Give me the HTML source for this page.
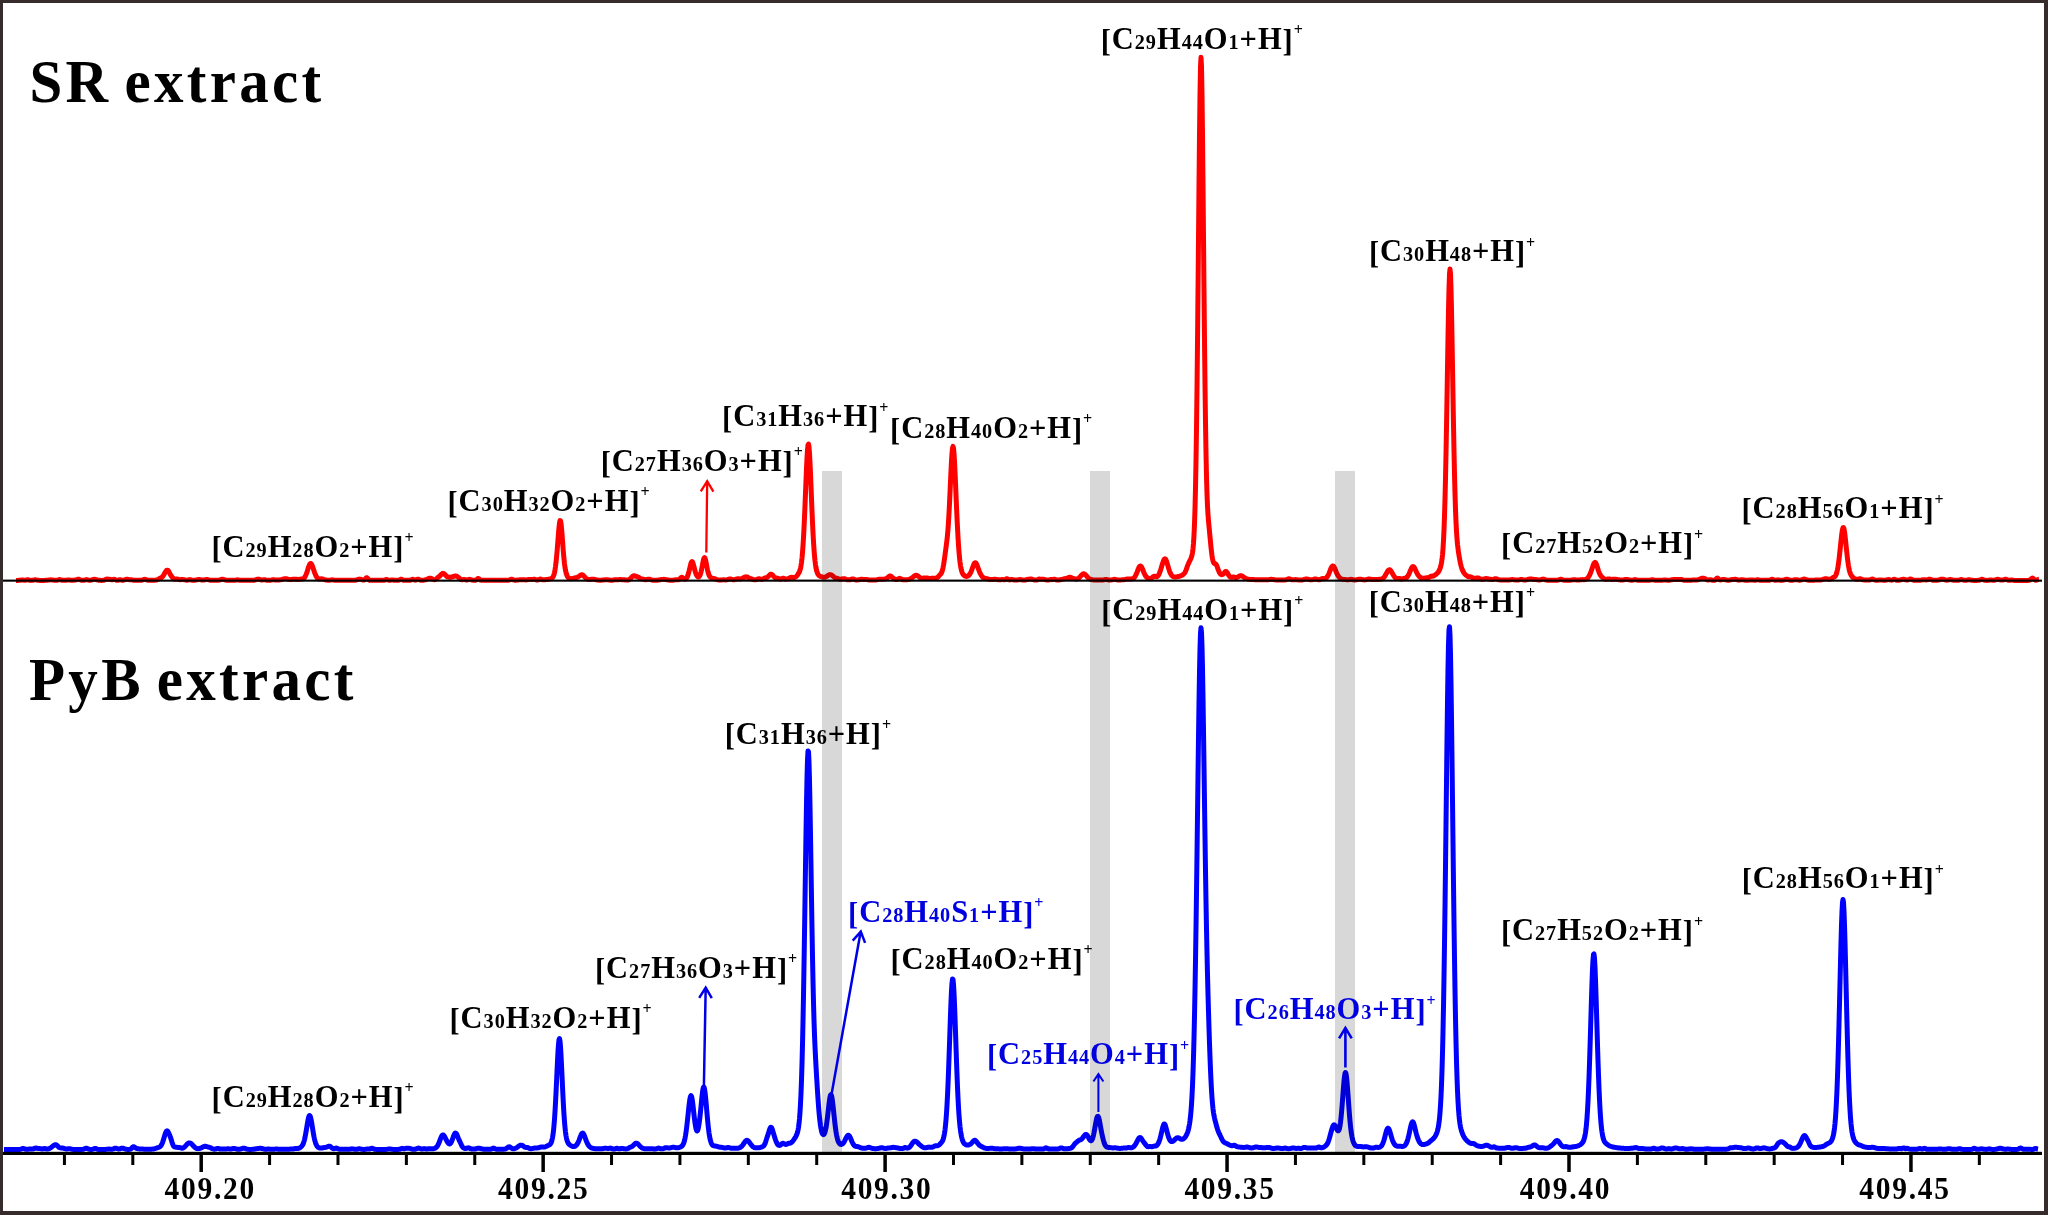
<!DOCTYPE html>
<html><head><meta charset="utf-8"><style>
html,body{margin:0;padding:0;background:#fff;}
body{width:2048px;height:1215px;overflow:hidden;position:relative;}
svg{position:absolute;left:0;top:0;}
text{font-family:"Liberation Serif",serif;font-weight:bold;}
</style></head><body>
<svg width="2048" height="1215" viewBox="0 0 2048 1215">
<rect x="0" y="0" width="2048" height="1215" fill="#ffffff"/>

<polyline points="16.0,580.39 16.5,580.39 17.0,580.39 17.5,580.39 18.0,580.38 18.5,580.37 19.0,580.35 19.5,580.31 20.0,580.25 20.5,580.17 21.0,580.08 21.5,580.02 22.0,579.99 22.5,580.01 23.0,580.06 23.5,580.14 24.0,580.22 24.5,580.28 25.0,580.30 25.5,580.26 26.0,580.15 26.5,579.98 27.0,579.81 27.5,579.72 28.0,579.76 28.5,579.91 29.0,580.09 29.5,580.24 30.0,580.33 30.5,580.37 31.0,580.38 31.5,580.37 32.0,580.33 32.5,580.28 33.0,580.19 33.5,580.08 34.0,579.95 34.5,579.85 35.0,579.80 35.5,579.82 36.0,579.90 36.5,580.01 37.0,580.13 37.5,580.24 38.0,580.31 38.5,580.35 39.0,580.37 39.5,580.39 40.0,580.39 40.5,580.39 41.0,580.39 41.5,580.39 42.0,580.39 42.5,580.39 43.0,580.39 43.5,580.39 44.0,580.38 44.5,580.38 45.0,580.37 45.5,580.35 46.0,580.33 46.5,580.30 47.0,580.26 47.5,580.20 48.0,580.14 48.5,580.07 49.0,580.00 49.5,579.93 50.0,579.88 50.5,579.85 51.0,579.85 51.5,579.87 52.0,579.91 52.5,579.97 53.0,580.04 53.5,580.11 54.0,580.18 54.5,580.23 55.0,580.28 55.5,580.32 56.0,580.33 56.5,580.32 57.0,580.28 57.5,580.18 58.0,580.03 58.5,579.84 59.0,579.67 59.5,579.58 60.0,579.62 60.5,579.76 61.0,579.94 61.5,580.12 62.0,580.25 62.5,580.32 63.0,580.36 63.5,580.36 64.0,580.35 64.5,580.33 65.0,580.30 65.5,580.26 66.0,580.20 66.5,580.15 67.0,580.10 67.5,580.05 68.0,580.02 68.5,580.01 69.0,580.03 69.5,580.06 70.0,580.11 70.5,580.16 71.0,580.20 71.5,580.24 72.0,580.26 72.5,580.25 73.0,580.23 73.5,580.19 74.0,580.14 74.5,580.09 75.0,580.04 75.5,579.99 76.0,579.90 76.5,579.77 77.0,579.60 77.5,579.41 78.0,579.26 78.5,579.22 79.0,579.31 79.5,579.51 80.0,579.76 80.5,579.99 81.0,580.17 81.5,580.28 82.0,580.34 82.5,580.37 83.0,580.37 83.5,580.34 84.0,580.29 84.5,580.18 85.0,580.02 85.5,579.83 86.0,579.67 86.5,579.61 87.0,579.66 87.5,579.81 88.0,579.99 88.5,580.14 89.0,580.24 89.5,580.28 90.0,580.26 90.5,580.20 91.0,580.11 91.5,579.99 92.0,579.85 92.5,579.70 93.0,579.55 93.5,579.43 94.0,579.35 94.5,579.32 95.0,579.36 95.5,579.45 96.0,579.58 96.5,579.73 97.0,579.88 97.5,580.02 98.0,580.14 98.5,580.22 99.0,580.29 99.5,580.33 100.0,580.35 100.5,580.37 101.0,580.38 101.5,580.38 102.0,580.38 102.5,580.37 103.0,580.35 103.5,580.30 104.0,580.20 104.5,580.05 105.0,579.83 105.5,579.58 106.0,579.34 106.5,579.17 107.0,579.10 107.5,579.11 108.0,579.16 108.5,579.19 109.0,579.21 109.5,579.24 110.0,579.32 110.5,579.46 111.0,579.63 111.5,579.77 112.0,579.81 112.5,579.72 113.0,579.55 113.5,579.37 114.0,579.29 114.5,579.36 115.0,579.56 115.5,579.82 116.0,580.05 116.5,580.21 117.0,580.29 117.5,580.30 118.0,580.23 118.5,580.09 119.0,579.90 119.5,579.74 120.0,579.69 120.5,579.76 121.0,579.93 121.5,580.10 122.0,580.22 122.5,580.26 123.0,580.24 123.5,580.16 124.0,580.05 124.5,579.90 125.0,579.73 125.5,579.56 126.0,579.41 126.5,579.30 127.0,579.27 127.5,579.30 128.0,579.40 128.5,579.54 129.0,579.69 129.5,579.80 130.0,579.84 130.5,579.83 131.0,579.81 131.5,579.82 132.0,579.90 132.5,580.03 133.0,580.16 133.5,580.26 134.0,580.32 134.5,580.34 135.0,580.35 135.5,580.35 136.0,580.35 136.5,580.35 137.0,580.35 137.5,580.35 138.0,580.35 138.5,580.35 139.0,580.34 139.5,580.34 140.0,580.33 140.5,580.31 141.0,580.27 141.5,580.21 142.0,580.11 142.5,579.96 143.0,579.78 143.5,579.59 144.0,579.44 144.5,579.36 145.0,579.37 145.5,579.47 146.0,579.64 146.5,579.82 147.0,579.98 147.5,580.11 148.0,580.19 148.5,580.24 149.0,580.26 149.5,580.26 150.0,580.26 150.5,580.26 151.0,580.25 151.5,580.24 152.0,580.23 152.5,580.22 153.0,580.21 153.5,580.20 154.0,580.18 154.5,580.16 155.0,580.14 155.5,580.11 156.0,580.05 156.5,579.97 157.0,579.85 157.5,579.68 158.0,579.44 158.5,579.16 159.0,578.85 159.5,578.55 160.0,578.27 160.5,578.03 161.0,577.78 161.5,577.50 162.0,577.14 162.5,576.66 163.0,576.05 163.5,575.32 164.0,574.48 164.5,573.58 165.0,572.67 165.5,571.80 166.0,571.04 166.5,570.46 167.0,570.14 167.5,570.13 168.0,570.44 168.5,571.05 169.0,571.88 169.5,572.86 170.0,573.88 170.5,574.84 171.0,575.69 171.5,576.41 172.0,577.03 172.5,577.59 173.0,578.11 173.5,578.57 174.0,578.92 174.5,579.12 175.0,579.19 175.5,579.16 176.0,579.08 176.5,579.02 177.0,579.02 177.5,579.10 178.0,579.25 178.5,579.41 179.0,579.55 179.5,579.64 180.0,579.68 180.5,579.66 181.0,579.61 181.5,579.56 182.0,579.52 182.5,579.52 183.0,579.55 183.5,579.61 184.0,579.70 184.5,579.81 185.0,579.92 185.5,580.02 186.0,580.10 186.5,580.16 187.0,580.18 187.5,580.15 188.0,580.06 188.5,579.91 189.0,579.75 189.5,579.63 190.0,579.61 190.5,579.70 191.0,579.87 191.5,580.05 192.0,580.18 192.5,580.26 193.0,580.30 193.5,580.30 194.0,580.29 194.5,580.26 195.0,580.21 195.5,580.14 196.0,580.04 196.5,579.93 197.0,579.81 197.5,579.69 198.0,579.59 198.5,579.52 199.0,579.50 199.5,579.53 200.0,579.61 200.5,579.71 201.0,579.83 201.5,579.94 202.0,580.03 202.5,580.08 203.0,580.10 203.5,580.06 204.0,579.99 204.5,579.88 205.0,579.76 205.5,579.64 206.0,579.55 206.5,579.50 207.0,579.51 207.5,579.57 208.0,579.67 208.5,579.80 209.0,579.94 209.5,580.06 210.0,580.16 210.5,580.24 211.0,580.29 211.5,580.33 212.0,580.35 212.5,580.36 213.0,580.36 213.5,580.37 214.0,580.37 214.5,580.37 215.0,580.37 215.5,580.36 216.0,580.36 216.5,580.35 217.0,580.34 217.5,580.31 218.0,580.27 218.5,580.20 219.0,580.11 219.5,579.99 220.0,579.85 220.5,579.69 221.0,579.54 221.5,579.41 222.0,579.33 222.5,579.31 223.0,579.35 223.5,579.45 224.0,579.58 224.5,579.74 225.0,579.89 225.5,580.03 226.0,580.14 226.5,580.23 227.0,580.29 227.5,580.32 228.0,580.35 228.5,580.36 229.0,580.37 229.5,580.37 230.0,580.37 230.5,580.37 231.0,580.37 231.5,580.37 232.0,580.37 232.5,580.37 233.0,580.37 233.5,580.37 234.0,580.36 234.5,580.34 235.0,580.29 235.5,580.20 236.0,580.07 236.5,579.94 237.0,579.84 237.5,579.82 238.0,579.88 238.5,580.01 239.0,580.14 239.5,580.25 240.0,580.32 240.5,580.35 241.0,580.36 241.5,580.37 242.0,580.37 242.5,580.37 243.0,580.37 243.5,580.37 244.0,580.37 244.5,580.37 245.0,580.37 245.5,580.37 246.0,580.37 246.5,580.37 247.0,580.37 247.5,580.37 248.0,580.37 248.5,580.37 249.0,580.37 249.5,580.37 250.0,580.37 250.5,580.37 251.0,580.37 251.5,580.36 252.0,580.36 252.5,580.35 253.0,580.33 253.5,580.29 254.0,580.24 254.5,580.15 255.0,580.03 255.5,579.87 256.0,579.69 256.5,579.50 257.0,579.32 257.5,579.18 258.0,579.11 258.5,579.13 259.0,579.22 259.5,579.37 260.0,579.55 260.5,579.74 261.0,579.89 261.5,580.00 262.0,580.03 262.5,579.99 263.0,579.89 263.5,579.78 264.0,579.70 264.5,579.70 265.0,579.78 265.5,579.92 266.0,580.07 266.5,580.19 267.0,580.27 267.5,580.32 268.0,580.34 268.5,580.34 269.0,580.33 269.5,580.31 270.0,580.28 270.5,580.21 271.0,580.12 271.5,580.01 272.0,579.88 272.5,579.77 273.0,579.71 273.5,579.70 274.0,579.75 274.5,579.83 275.0,579.93 275.5,580.00 276.0,580.05 276.5,580.07 277.0,580.06 277.5,580.04 278.0,580.01 278.5,579.97 279.0,579.94 279.5,579.89 280.0,579.83 280.5,579.76 281.0,579.68 281.5,579.57 282.0,579.45 282.5,579.31 283.0,579.17 283.5,579.03 284.0,578.90 284.5,578.79 285.0,578.71 285.5,578.68 286.0,578.69 286.5,578.76 287.0,578.88 287.5,579.03 288.0,579.20 288.5,579.37 289.0,579.50 289.5,579.59 290.0,579.63 290.5,579.60 291.0,579.54 291.5,579.45 292.0,579.36 292.5,579.29 293.0,579.25 293.5,579.24 294.0,579.23 294.5,579.20 295.0,579.16 295.5,579.13 296.0,579.14 296.5,579.22 297.0,579.33 297.5,579.45 298.0,579.51 298.5,579.50 299.0,579.42 299.5,579.32 300.0,579.21 300.5,579.13 301.0,579.08 301.5,579.04 302.0,579.00 302.5,578.91 303.0,578.75 303.5,578.48 304.0,578.08 304.5,577.52 305.0,576.78 305.5,575.85 306.0,574.73 306.5,573.42 307.0,571.97 307.5,570.41 308.0,568.82 308.5,567.27 309.0,565.87 309.5,564.71 310.0,563.89 310.5,563.49 311.0,563.57 311.5,564.12 312.0,565.07 312.5,566.32 313.0,567.76 313.5,569.30 314.0,570.84 314.5,572.31 315.0,573.67 315.5,574.89 316.0,575.94 316.5,576.82 317.0,577.53 317.5,578.09 318.0,578.49 318.5,578.77 319.0,578.92 319.5,578.98 320.0,578.96 320.5,578.91 321.0,578.85 321.5,578.82 322.0,578.85 322.5,578.94 323.0,579.09 323.5,579.28 324.0,579.48 324.5,579.67 325.0,579.82 325.5,579.94 326.0,580.03 326.5,580.08 327.0,580.12 327.5,580.15 328.0,580.17 328.5,580.17 329.0,580.17 329.5,580.16 330.0,580.12 330.5,580.05 331.0,579.95 331.5,579.87 332.0,579.83 332.5,579.84 333.0,579.92 333.5,580.02 334.0,580.12 334.5,580.19 335.0,580.24 335.5,580.27 336.0,580.28 336.5,580.28 337.0,580.29 337.5,580.29 338.0,580.30 338.5,580.30 339.0,580.30 339.5,580.30 340.0,580.31 340.5,580.31 341.0,580.31 341.5,580.31 342.0,580.32 342.5,580.32 343.0,580.32 343.5,580.32 344.0,580.32 344.5,580.32 345.0,580.33 345.5,580.33 346.0,580.33 346.5,580.33 347.0,580.33 347.5,580.33 348.0,580.33 348.5,580.34 349.0,580.34 349.5,580.34 350.0,580.34 350.5,580.34 351.0,580.34 351.5,580.34 352.0,580.34 352.5,580.34 353.0,580.34 353.5,580.33 354.0,580.31 354.5,580.29 355.0,580.24 355.5,580.17 356.0,580.07 356.5,579.94 357.0,579.79 357.5,579.61 358.0,579.43 358.5,579.28 359.0,579.17 359.5,579.12 360.0,579.14 360.5,579.23 361.0,579.37 361.5,579.54 362.0,579.72 362.5,579.88 363.0,580.00 363.5,580.05 364.0,579.97 364.5,579.71 365.0,579.23 365.5,578.61 366.0,578.01 366.5,577.69 367.0,577.80 367.5,578.28 368.0,578.94 368.5,579.54 369.0,579.96 369.5,580.19 370.0,580.30 370.5,580.34 371.0,580.35 371.5,580.36 372.0,580.36 372.5,580.36 373.0,580.36 373.5,580.36 374.0,580.36 374.5,580.36 375.0,580.36 375.5,580.36 376.0,580.36 376.5,580.36 377.0,580.36 377.5,580.36 378.0,580.36 378.5,580.36 379.0,580.36 379.5,580.36 380.0,580.36 380.5,580.36 381.0,580.36 381.5,580.36 382.0,580.36 382.5,580.36 383.0,580.35 383.5,580.34 384.0,580.30 384.5,580.20 385.0,580.02 385.5,579.78 386.0,579.55 386.5,579.44 387.0,579.51 387.5,579.71 388.0,579.96 388.5,580.16 389.0,580.27 389.5,580.31 390.0,580.29 390.5,580.22 391.0,580.12 391.5,580.01 392.0,579.95 392.5,579.96 393.0,580.05 393.5,580.17 394.0,580.26 394.5,580.32 395.0,580.34 395.5,580.35 396.0,580.35 396.5,580.36 397.0,580.35 397.5,580.35 398.0,580.34 398.5,580.29 399.0,580.18 399.5,579.97 400.0,579.67 400.5,579.37 401.0,579.20 401.5,579.26 402.0,579.51 402.5,579.83 403.0,580.09 403.5,580.24 404.0,580.31 404.5,580.34 405.0,580.35 405.5,580.35 406.0,580.35 406.5,580.35 407.0,580.35 407.5,580.34 408.0,580.34 408.5,580.34 409.0,580.33 409.5,580.30 410.0,580.24 410.5,580.11 411.0,579.91 411.5,579.67 412.0,579.44 412.5,579.31 413.0,579.35 413.5,579.53 414.0,579.77 414.5,579.99 415.0,580.12 415.5,580.13 416.0,580.02 416.5,579.79 417.0,579.50 417.5,579.25 418.0,579.17 418.5,579.28 419.0,579.54 419.5,579.83 420.0,580.06 420.5,580.20 421.0,580.26 421.5,580.29 422.0,580.28 422.5,580.27 423.0,580.24 423.5,580.20 424.0,580.14 424.5,580.04 425.0,579.92 425.5,579.78 426.0,579.61 426.5,579.43 427.0,579.23 427.5,579.01 428.0,578.79 428.5,578.57 429.0,578.38 429.5,578.25 430.0,578.20 430.5,578.25 431.0,578.39 431.5,578.60 432.0,578.85 432.5,579.11 433.0,579.34 433.5,579.52 434.0,579.63 434.5,579.66 435.0,579.60 435.5,579.42 436.0,579.13 436.5,578.71 437.0,578.24 437.5,577.77 438.0,577.35 438.5,577.00 439.0,576.67 439.5,576.30 440.0,575.84 440.5,575.30 441.0,574.74 441.5,574.21 442.0,573.77 442.5,573.47 443.0,573.36 443.5,573.45 444.0,573.71 444.5,574.12 445.0,574.62 445.5,575.16 446.0,575.68 446.5,576.15 447.0,576.53 447.5,576.82 448.0,577.02 448.5,577.13 449.0,577.18 449.5,577.19 450.0,577.18 450.5,577.16 451.0,577.11 451.5,577.05 452.0,576.94 452.5,576.81 453.0,576.64 453.5,576.46 454.0,576.29 454.5,576.15 455.0,576.06 455.5,576.04 456.0,576.08 456.5,576.19 457.0,576.38 457.5,576.66 458.0,577.02 458.5,577.46 459.0,577.93 459.5,578.39 460.0,578.81 460.5,579.16 461.0,579.43 461.5,579.61 462.0,579.70 462.5,579.69 463.0,579.59 463.5,579.46 464.0,579.38 464.5,579.42 465.0,579.57 465.5,579.75 466.0,579.91 466.5,579.97 467.0,579.94 467.5,579.83 468.0,579.68 468.5,579.52 469.0,579.41 469.5,579.36 470.0,579.40 470.5,579.52 471.0,579.69 471.5,579.86 472.0,580.01 472.5,580.13 473.0,580.20 473.5,580.25 474.0,580.27 474.5,580.28 475.0,580.26 475.5,580.19 476.0,580.03 476.5,579.72 477.0,579.26 477.5,578.77 478.0,578.46 478.5,578.48 479.0,578.82 479.5,579.31 480.0,579.76 480.5,580.06 481.0,580.22 481.5,580.29 482.0,580.31 482.5,580.31 483.0,580.32 483.5,580.32 484.0,580.32 484.5,580.32 485.0,580.32 485.5,580.32 486.0,580.32 486.5,580.32 487.0,580.32 487.5,580.32 488.0,580.32 488.5,580.32 489.0,580.32 489.5,580.32 490.0,580.32 490.5,580.32 491.0,580.32 491.5,580.32 492.0,580.32 492.5,580.32 493.0,580.32 493.5,580.32 494.0,580.32 494.5,580.32 495.0,580.32 495.5,580.32 496.0,580.32 496.5,580.32 497.0,580.32 497.5,580.32 498.0,580.32 498.5,580.32 499.0,580.32 499.5,580.32 500.0,580.32 500.5,580.32 501.0,580.32 501.5,580.31 502.0,580.31 502.5,580.31 503.0,580.31 503.5,580.31 504.0,580.31 504.5,580.31 505.0,580.31 505.5,580.31 506.0,580.31 506.5,580.31 507.0,580.30 507.5,580.28 508.0,580.25 508.5,580.18 509.0,580.06 509.5,579.89 510.0,579.67 510.5,579.44 511.0,579.28 511.5,579.22 512.0,579.29 512.5,579.46 513.0,579.68 513.5,579.89 514.0,580.05 514.5,580.15 515.0,580.19 515.5,580.19 516.0,580.17 516.5,580.13 517.0,580.08 517.5,580.02 518.0,579.96 518.5,579.92 519.0,579.88 519.5,579.85 520.0,579.84 520.5,579.83 521.0,579.81 521.5,579.79 522.0,579.76 522.5,579.73 523.0,579.71 523.5,579.72 524.0,579.75 524.5,579.80 525.0,579.85 525.5,579.89 526.0,579.90 526.5,579.87 527.0,579.81 527.5,579.71 528.0,579.60 528.5,579.50 529.0,579.42 529.5,579.38 530.0,579.39 530.5,579.43 531.0,579.50 531.5,579.56 532.0,579.59 532.5,579.56 533.0,579.46 533.5,579.35 534.0,579.28 534.5,579.30 535.0,579.41 535.5,579.59 536.0,579.76 536.5,579.90 537.0,579.97 537.5,579.97 538.0,579.90 538.5,579.75 539.0,579.51 539.5,579.26 540.0,579.09 540.5,579.09 541.0,579.25 541.5,579.46 542.0,579.65 542.5,579.76 543.0,579.79 543.5,579.79 544.0,579.76 544.5,579.73 545.0,579.69 545.5,579.64 546.0,579.59 546.5,579.54 547.0,579.48 547.5,579.41 548.0,579.34 548.5,579.25 549.0,579.16 549.5,579.05 550.0,578.92 550.5,578.77 551.0,578.58 551.5,578.33 552.0,578.01 552.5,577.55 553.0,576.89 553.5,575.93 554.0,574.54 554.5,572.58 555.0,569.94 555.5,566.56 556.0,562.46 556.5,557.64 557.0,552.14 557.5,546.07 558.0,539.63 558.5,533.22 559.0,527.43 559.5,523.01 560.0,520.64 560.5,520.77 561.0,523.37 561.5,528.01 562.0,533.99 562.5,540.63 563.0,547.33 563.5,553.61 564.0,559.15 564.5,563.78 565.0,567.47 565.5,570.33 566.0,572.53 566.5,574.24 567.0,575.58 567.5,576.61 568.0,577.35 568.5,577.87 569.0,578.21 569.5,578.43 570.0,578.56 570.5,578.63 571.0,578.65 571.5,578.63 572.0,578.56 572.5,578.46 573.0,578.34 573.5,578.21 574.0,578.08 574.5,577.96 575.0,577.86 575.5,577.76 576.0,577.66 576.5,577.55 577.0,577.40 577.5,577.21 578.0,576.96 578.5,576.65 579.0,576.30 579.5,575.92 580.0,575.55 580.5,575.20 581.0,574.92 581.5,574.77 582.0,574.76 582.5,574.91 583.0,575.23 583.5,575.67 584.0,576.19 584.5,576.74 585.0,577.28 585.5,577.78 586.0,578.21 586.5,578.58 587.0,578.88 587.5,579.12 588.0,579.30 588.5,579.41 589.0,579.47 589.5,579.49 590.0,579.46 590.5,579.41 591.0,579.33 591.5,579.26 592.0,579.20 592.5,579.16 593.0,579.16 593.5,579.20 594.0,579.27 594.5,579.37 595.0,579.50 595.5,579.62 596.0,579.75 596.5,579.86 597.0,579.95 597.5,580.03 598.0,580.08 598.5,580.12 599.0,580.15 599.5,580.17 600.0,580.17 600.5,580.18 601.0,580.17 601.5,580.15 602.0,580.12 602.5,580.09 603.0,580.04 603.5,579.98 604.0,579.91 604.5,579.84 605.0,579.78 605.5,579.73 606.0,579.71 606.5,579.71 607.0,579.73 607.5,579.78 608.0,579.84 608.5,579.91 609.0,579.98 609.5,580.05 610.0,580.11 610.5,580.15 611.0,580.18 611.5,580.20 612.0,580.19 612.5,580.16 613.0,580.08 613.5,579.97 614.0,579.84 614.5,579.73 615.0,579.66 615.5,579.64 616.0,579.68 616.5,579.74 617.0,579.78 617.5,579.78 618.0,579.75 618.5,579.70 619.0,579.64 619.5,579.60 620.0,579.58 620.5,579.59 621.0,579.62 621.5,579.65 622.0,579.69 622.5,579.71 623.0,579.73 623.5,579.74 624.0,579.78 624.5,579.84 625.0,579.92 625.5,580.00 626.0,580.06 626.5,580.10 627.0,580.10 627.5,580.06 628.0,579.98 628.5,579.86 629.0,579.66 629.5,579.38 630.0,579.00 630.5,578.52 631.0,577.97 631.5,577.38 632.0,576.81 632.5,576.34 633.0,575.99 633.5,575.80 634.0,575.77 634.5,575.85 635.0,576.00 635.5,576.18 636.0,576.36 636.5,576.51 637.0,576.65 637.5,576.80 638.0,576.98 638.5,577.22 639.0,577.52 639.5,577.88 640.0,578.25 640.5,578.58 641.0,578.83 641.5,578.98 642.0,579.05 642.5,579.08 643.0,579.12 643.5,579.21 644.0,579.36 644.5,579.53 645.0,579.67 645.5,579.75 646.0,579.74 646.5,579.65 647.0,579.51 647.5,579.36 648.0,579.23 648.5,579.16 649.0,579.17 649.5,579.26 650.0,579.41 650.5,579.59 651.0,579.77 651.5,579.93 652.0,580.05 652.5,580.14 653.0,580.19 653.5,580.22 654.0,580.24 654.5,580.24 655.0,580.25 655.5,580.24 656.0,580.24 656.5,580.22 657.0,580.19 657.5,580.15 658.0,580.09 658.5,580.02 659.0,579.93 659.5,579.84 660.0,579.75 660.5,579.66 661.0,579.59 661.5,579.53 662.0,579.48 662.5,579.43 663.0,579.39 663.5,579.37 664.0,579.36 664.5,579.37 665.0,579.42 665.5,579.50 666.0,579.59 666.5,579.70 667.0,579.81 667.5,579.91 668.0,580.00 668.5,580.06 669.0,580.11 669.5,580.14 670.0,580.16 670.5,580.17 671.0,580.17 671.5,580.17 672.0,580.17 672.5,580.15 673.0,580.13 673.5,580.10 674.0,580.04 674.5,579.97 675.0,579.88 675.5,579.78 676.0,579.71 676.5,579.67 677.0,579.68 677.5,579.72 678.0,579.76 678.5,579.75 679.0,579.62 679.5,579.31 680.0,578.80 680.5,578.17 681.0,577.58 681.5,577.24 682.0,577.28 682.5,577.67 683.0,578.23 683.5,578.76 684.0,579.11 684.5,579.26 685.0,579.22 685.5,579.03 686.0,578.68 686.5,578.15 687.0,577.38 687.5,576.34 688.0,574.99 688.5,573.34 689.0,571.44 689.5,569.35 690.0,567.19 690.5,565.10 691.0,563.29 691.5,562.03 692.0,561.55 692.5,561.95 693.0,563.14 693.5,564.87 694.0,566.87 694.5,568.91 695.0,570.82 695.5,572.50 696.0,573.91 696.5,575.03 697.0,575.89 697.5,576.49 698.0,576.83 698.5,576.92 699.0,576.71 699.5,576.17 700.0,575.24 700.5,573.89 701.0,572.10 701.5,569.91 702.0,567.38 702.5,564.68 703.0,562.04 703.5,559.76 704.0,558.19 704.5,557.63 705.0,558.20 705.5,559.78 706.0,562.05 706.5,564.68 707.0,567.34 707.5,569.82 708.0,571.96 708.5,573.71 709.0,575.05 709.5,576.04 710.0,576.75 710.5,577.24 711.0,577.60 711.5,577.86 712.0,578.06 712.5,578.21 713.0,578.33 713.5,578.44 714.0,578.56 714.5,578.71 715.0,578.90 715.5,579.11 716.0,579.32 716.5,579.52 717.0,579.68 717.5,579.80 718.0,579.88 718.5,579.94 719.0,579.97 719.5,579.99 720.0,580.00 720.5,580.00 721.0,579.99 721.5,579.96 722.0,579.92 722.5,579.87 723.0,579.83 723.5,579.80 724.0,579.81 724.5,579.84 725.0,579.88 725.5,579.91 726.0,579.92 726.5,579.88 727.0,579.79 727.5,579.65 728.0,579.47 728.5,579.28 729.0,579.11 729.5,578.99 730.0,578.95 730.5,579.00 731.0,579.13 731.5,579.30 732.0,579.48 732.5,579.64 733.0,579.74 733.5,579.78 734.0,579.75 734.5,579.67 735.0,579.54 735.5,579.37 736.0,579.20 736.5,579.03 737.0,578.90 737.5,578.82 738.0,578.79 738.5,578.80 739.0,578.85 739.5,578.90 740.0,578.93 740.5,578.91 741.0,578.84 741.5,578.70 742.0,578.50 742.5,578.25 743.0,577.97 743.5,577.68 744.0,577.41 744.5,577.17 745.0,577.00 745.5,576.89 746.0,576.85 746.5,576.88 747.0,576.98 747.5,577.14 748.0,577.36 748.5,577.63 749.0,577.92 749.5,578.19 750.0,578.42 750.5,578.60 751.0,578.74 751.5,578.88 752.0,579.03 752.5,579.20 753.0,579.39 753.5,579.56 754.0,579.70 754.5,579.79 755.0,579.82 755.5,579.80 756.0,579.71 756.5,579.56 757.0,579.36 757.5,579.14 758.0,578.93 758.5,578.80 759.0,578.76 759.5,578.83 760.0,578.99 760.5,579.17 761.0,579.32 761.5,579.39 762.0,579.36 762.5,579.22 763.0,579.00 763.5,578.71 764.0,578.41 764.5,578.15 765.0,577.96 765.5,577.82 766.0,577.70 766.5,577.57 767.0,577.36 767.5,577.06 768.0,576.66 768.5,576.16 769.0,575.62 769.5,575.07 770.0,574.60 770.5,574.28 771.0,574.16 771.5,574.27 772.0,574.59 772.5,575.05 773.0,575.59 773.5,576.16 774.0,576.70 774.5,577.19 775.0,577.61 775.5,577.94 776.0,578.16 776.5,578.26 777.0,578.27 777.5,578.25 778.0,578.29 778.5,578.43 779.0,578.66 779.5,578.91 780.0,579.11 780.5,579.20 781.0,579.14 781.5,578.93 782.0,578.61 782.5,578.29 783.0,578.13 783.5,578.20 784.0,578.46 784.5,578.76 785.0,578.98 785.5,579.10 786.0,579.11 786.5,579.06 787.0,578.96 787.5,578.83 788.0,578.65 788.5,578.43 789.0,578.19 789.5,577.94 790.0,577.70 790.5,577.51 791.0,577.38 791.5,577.32 792.0,577.32 792.5,577.37 793.0,577.42 793.5,577.46 794.0,577.46 794.5,577.40 795.0,577.27 795.5,577.04 796.0,576.70 796.5,576.24 797.0,575.65 797.5,574.98 798.0,574.25 798.5,573.49 799.0,572.64 799.5,571.60 800.0,570.20 800.5,568.29 801.0,565.70 801.5,562.29 802.0,557.91 802.5,552.42 803.0,545.68 803.5,537.61 804.0,528.16 804.5,517.42 805.0,505.61 805.5,493.11 806.0,480.49 806.5,468.50 807.0,458.00 807.5,449.92 808.0,445.07 808.5,444.03 809.0,446.90 809.5,453.34 810.0,462.62 810.5,473.86 811.0,486.17 811.5,498.77 812.0,511.03 812.5,522.49 813.0,532.81 813.5,541.82 814.0,549.45 814.5,555.74 815.0,560.81 815.5,564.79 816.0,567.87 816.5,570.20 817.0,571.95 817.5,573.25 818.0,574.22 818.5,574.93 819.0,575.45 819.5,575.84 820.0,576.13 820.5,576.35 821.0,576.54 821.5,576.71 822.0,576.87 822.5,577.01 823.0,577.13 823.5,577.22 824.0,577.25 824.5,577.21 825.0,577.11 825.5,576.95 826.0,576.72 826.5,576.45 827.0,576.13 827.5,575.80 828.0,575.47 828.5,575.16 829.0,574.90 829.5,574.72 830.0,574.64 830.5,574.67 831.0,574.81 831.5,575.04 832.0,575.35 832.5,575.72 833.0,576.13 833.5,576.54 834.0,576.95 834.5,577.33 835.0,577.64 835.5,577.89 836.0,578.06 836.5,578.18 837.0,578.29 837.5,578.42 838.0,578.58 838.5,578.78 839.0,578.98 839.5,579.15 840.0,579.25 840.5,579.28 841.0,579.24 841.5,579.13 842.0,578.99 842.5,578.84 843.0,578.71 843.5,578.65 844.0,578.66 844.5,578.75 845.0,578.91 845.5,579.10 846.0,579.30 846.5,579.48 847.0,579.62 847.5,579.74 848.0,579.81 848.5,579.86 849.0,579.87 849.5,579.84 850.0,579.76 850.5,579.61 851.0,579.41 851.5,579.18 852.0,578.99 852.5,578.88 853.0,578.91 853.5,579.07 854.0,579.29 854.5,579.53 855.0,579.73 855.5,579.86 856.0,579.93 856.5,579.96 857.0,579.95 857.5,579.92 858.0,579.86 858.5,579.78 859.0,579.69 859.5,579.58 860.0,579.48 860.5,579.39 861.0,579.32 861.5,579.30 862.0,579.31 862.5,579.36 863.0,579.43 863.5,579.50 864.0,579.56 864.5,579.59 865.0,579.59 865.5,579.57 866.0,579.55 866.5,579.55 867.0,579.59 867.5,579.66 868.0,579.76 868.5,579.86 869.0,579.94 869.5,580.00 870.0,580.04 870.5,580.07 871.0,580.08 871.5,580.08 872.0,580.08 872.5,580.08 873.0,580.08 873.5,580.08 874.0,580.07 874.5,580.07 875.0,580.05 875.5,580.01 876.0,579.95 876.5,579.86 877.0,579.75 877.5,579.62 878.0,579.50 878.5,579.39 879.0,579.33 879.5,579.30 880.0,579.29 880.5,579.28 881.0,579.27 881.5,579.25 882.0,579.23 882.5,579.20 883.0,579.18 883.5,579.16 884.0,579.12 884.5,579.07 885.0,578.98 885.5,578.84 886.0,578.65 886.5,578.39 887.0,578.08 887.5,577.71 888.0,577.29 888.5,576.86 889.0,576.46 889.5,576.16 890.0,576.00 890.5,576.03 891.0,576.24 891.5,576.59 892.0,577.03 892.5,577.49 893.0,577.94 893.5,578.34 894.0,578.68 894.5,578.96 895.0,579.18 895.5,579.35 896.0,579.47 896.5,579.53 897.0,579.50 897.5,579.36 898.0,579.12 898.5,578.81 899.0,578.52 899.5,578.36 900.0,578.40 900.5,578.63 901.0,578.96 901.5,579.30 902.0,579.56 902.5,579.73 903.0,579.82 903.5,579.86 904.0,579.86 904.5,579.86 905.0,579.84 905.5,579.83 906.0,579.80 906.5,579.77 907.0,579.73 907.5,579.68 908.0,579.61 908.5,579.51 909.0,579.40 909.5,579.24 910.0,579.06 910.5,578.83 911.0,578.55 911.5,578.23 912.0,577.88 912.5,577.49 913.0,577.08 913.5,576.67 914.0,576.27 914.5,575.92 915.0,575.62 915.5,575.42 916.0,575.32 916.5,575.34 917.0,575.47 917.5,575.70 918.0,576.03 918.5,576.41 919.0,576.83 919.5,577.25 920.0,577.62 920.5,577.92 921.0,578.13 921.5,578.23 922.0,578.24 922.5,578.20 923.0,578.12 923.5,578.07 924.0,578.05 924.5,578.06 925.0,578.08 925.5,578.09 926.0,578.08 926.5,578.05 927.0,578.04 927.5,578.07 928.0,578.14 928.5,578.25 929.0,578.36 929.5,578.44 930.0,578.46 930.5,578.43 931.0,578.35 931.5,578.27 932.0,578.19 932.5,578.15 933.0,578.15 933.5,578.17 934.0,578.19 934.5,578.21 935.0,578.19 935.5,578.14 936.0,578.05 936.5,577.90 937.0,577.68 937.5,577.38 938.0,576.97 938.5,576.46 939.0,575.90 939.5,575.32 940.0,574.78 940.5,574.24 941.0,573.61 941.5,572.78 942.0,571.59 942.5,569.95 943.0,567.82 943.5,565.19 944.0,562.11 944.5,558.67 945.0,555.00 945.5,551.24 946.0,547.52 946.5,543.76 947.0,539.70 947.5,534.94 948.0,529.10 948.5,521.95 949.0,513.43 949.5,503.67 950.0,492.98 950.5,481.86 951.0,470.98 951.5,461.16 952.0,453.25 952.5,448.10 953.0,446.33 953.5,448.18 954.0,453.44 954.5,461.52 955.0,471.63 955.5,482.97 956.0,494.80 956.5,506.53 957.0,517.70 957.5,527.97 958.0,537.16 958.5,545.14 959.0,551.91 959.5,557.51 960.0,562.03 960.5,565.61 961.0,568.39 961.5,570.51 962.0,572.10 962.5,573.30 963.0,574.19 963.5,574.86 964.0,575.36 964.5,575.74 965.0,576.02 965.5,576.22 966.0,576.34 966.5,576.39 967.0,576.34 967.5,576.20 968.0,575.96 968.5,575.60 969.0,575.12 969.5,574.51 970.0,573.77 970.5,572.87 971.0,571.83 971.5,570.63 972.0,569.32 972.5,567.92 973.0,566.51 973.5,565.18 974.0,564.03 974.5,563.18 975.0,562.72 975.5,562.71 976.0,563.14 976.5,563.96 977.0,565.07 977.5,566.36 978.0,567.74 978.5,569.13 979.0,570.46 979.5,571.71 980.0,572.85 980.5,573.88 981.0,574.81 981.5,575.62 982.0,576.32 982.5,576.92 983.0,577.40 983.5,577.77 984.0,578.04 984.5,578.22 985.0,578.34 985.5,578.42 986.0,578.50 986.5,578.59 987.0,578.70 987.5,578.83 988.0,578.99 988.5,579.14 989.0,579.28 989.5,579.39 990.0,579.48 990.5,579.54 991.0,579.56 991.5,579.56 992.0,579.53 992.5,579.49 993.0,579.43 993.5,579.37 994.0,579.32 994.5,579.29 995.0,579.28 995.5,579.31 996.0,579.37 996.5,579.45 997.0,579.54 997.5,579.63 998.0,579.70 998.5,579.76 999.0,579.80 999.5,579.80 1000.0,579.78 1000.5,579.73 1001.0,579.67 1001.5,579.62 1002.0,579.59 1002.5,579.59 1003.0,579.63 1003.5,579.69 1004.0,579.73 1004.5,579.72 1005.0,579.61 1005.5,579.38 1006.0,579.09 1006.5,578.85 1007.0,578.78 1007.5,578.92 1008.0,579.22 1008.5,579.54 1009.0,579.78 1009.5,579.89 1010.0,579.87 1010.5,579.76 1011.0,579.60 1011.5,579.48 1012.0,579.46 1012.5,579.57 1013.0,579.73 1013.5,579.90 1014.0,580.02 1014.5,580.08 1015.0,580.11 1015.5,580.11 1016.0,580.11 1016.5,580.10 1017.0,580.06 1017.5,580.00 1018.0,579.91 1018.5,579.80 1019.0,579.69 1019.5,579.60 1020.0,579.56 1020.5,579.59 1021.0,579.68 1021.5,579.80 1022.0,579.92 1022.5,580.01 1023.0,580.08 1023.5,580.12 1024.0,580.13 1024.5,580.12 1025.0,580.07 1025.5,579.97 1026.0,579.83 1026.5,579.66 1027.0,579.50 1027.5,579.37 1028.0,579.29 1028.5,579.25 1029.0,579.20 1029.5,579.14 1030.0,579.08 1030.5,579.03 1031.0,579.02 1031.5,579.08 1032.0,579.20 1032.5,579.36 1033.0,579.54 1033.5,579.71 1034.0,579.86 1034.5,579.98 1035.0,580.06 1035.5,580.11 1036.0,580.12 1036.5,580.08 1037.0,579.97 1037.5,579.77 1038.0,579.49 1038.5,579.22 1039.0,579.04 1039.5,579.00 1040.0,579.09 1040.5,579.21 1041.0,579.29 1041.5,579.30 1042.0,579.26 1042.5,579.22 1043.0,579.21 1043.5,579.25 1044.0,579.34 1044.5,579.45 1045.0,579.59 1045.5,579.73 1046.0,579.85 1046.5,579.94 1047.0,580.00 1047.5,580.02 1048.0,579.99 1048.5,579.93 1049.0,579.83 1049.5,579.73 1050.0,579.64 1050.5,579.59 1051.0,579.58 1051.5,579.61 1052.0,579.64 1052.5,579.62 1053.0,579.53 1053.5,579.38 1054.0,579.26 1054.5,579.25 1055.0,579.38 1055.5,579.60 1056.0,579.82 1056.5,579.98 1057.0,580.05 1057.5,580.06 1058.0,580.03 1058.5,579.98 1059.0,579.91 1059.5,579.84 1060.0,579.76 1060.5,579.67 1061.0,579.59 1061.5,579.49 1062.0,579.39 1062.5,579.28 1063.0,579.15 1063.5,579.02 1064.0,578.89 1064.5,578.77 1065.0,578.65 1065.5,578.55 1066.0,578.45 1066.5,578.33 1067.0,578.18 1067.5,578.00 1068.0,577.78 1068.5,577.57 1069.0,577.39 1069.5,577.29 1070.0,577.30 1070.5,577.41 1071.0,577.61 1071.5,577.86 1072.0,578.10 1072.5,578.31 1073.0,578.45 1073.5,578.55 1074.0,578.64 1074.5,578.73 1075.0,578.84 1075.5,578.95 1076.0,579.04 1076.5,579.07 1077.0,579.01 1077.5,578.86 1078.0,578.61 1078.5,578.27 1079.0,577.86 1079.5,577.39 1080.0,576.87 1080.5,576.33 1081.0,575.77 1081.5,575.22 1082.0,574.71 1082.5,574.29 1083.0,573.97 1083.5,573.81 1084.0,573.82 1084.5,574.01 1085.0,574.35 1085.5,574.81 1086.0,575.35 1086.5,575.93 1087.0,576.52 1087.5,577.08 1088.0,577.60 1088.5,578.06 1089.0,578.47 1089.5,578.81 1090.0,579.08 1090.5,579.31 1091.0,579.48 1091.5,579.61 1092.0,579.71 1092.5,579.79 1093.0,579.85 1093.5,579.89 1094.0,579.92 1094.5,579.94 1095.0,579.96 1095.5,579.98 1096.0,579.99 1096.5,580.00 1097.0,580.01 1097.5,580.01 1098.0,580.02 1098.5,580.02 1099.0,580.03 1099.5,580.03 1100.0,580.04 1100.5,580.04 1101.0,580.04 1101.5,580.03 1102.0,580.02 1102.5,579.99 1103.0,579.93 1103.5,579.84 1104.0,579.73 1104.5,579.60 1105.0,579.49 1105.5,579.43 1106.0,579.44 1106.5,579.51 1107.0,579.62 1107.5,579.74 1108.0,579.85 1108.5,579.93 1109.0,579.98 1109.5,580.00 1110.0,580.01 1110.5,580.00 1111.0,579.97 1111.5,579.91 1112.0,579.82 1112.5,579.70 1113.0,579.56 1113.5,579.44 1114.0,579.35 1114.5,579.34 1115.0,579.40 1115.5,579.52 1116.0,579.64 1116.5,579.76 1117.0,579.84 1117.5,579.90 1118.0,579.92 1118.5,579.93 1119.0,579.93 1119.5,579.92 1120.0,579.91 1120.5,579.90 1121.0,579.89 1121.5,579.87 1122.0,579.85 1122.5,579.82 1123.0,579.79 1123.5,579.74 1124.0,579.68 1124.5,579.60 1125.0,579.50 1125.5,579.39 1126.0,579.28 1126.5,579.16 1127.0,579.06 1127.5,578.98 1128.0,578.93 1128.5,578.90 1129.0,578.91 1129.5,578.93 1130.0,578.97 1130.5,579.00 1131.0,579.01 1131.5,578.98 1132.0,578.91 1132.5,578.78 1133.0,578.56 1133.5,578.26 1134.0,577.84 1134.5,577.29 1135.0,576.59 1135.5,575.74 1136.0,574.74 1136.5,573.60 1137.0,572.34 1137.5,571.03 1138.0,569.71 1138.5,568.47 1139.0,567.40 1139.5,566.57 1140.0,566.09 1140.5,565.99 1141.0,566.30 1141.5,566.96 1142.0,567.91 1142.5,569.05 1143.0,570.29 1143.5,571.54 1144.0,572.76 1144.5,573.88 1145.0,574.89 1145.5,575.77 1146.0,576.50 1146.5,577.11 1147.0,577.59 1147.5,577.96 1148.0,578.25 1148.5,578.45 1149.0,578.58 1149.5,578.66 1150.0,578.66 1150.5,578.59 1151.0,578.42 1151.5,578.14 1152.0,577.76 1152.5,577.30 1153.0,576.84 1153.5,576.45 1154.0,576.23 1154.5,576.19 1155.0,576.32 1155.5,576.54 1156.0,576.74 1156.5,576.84 1157.0,576.75 1157.5,576.44 1158.0,575.89 1158.5,575.13 1159.0,574.16 1159.5,573.01 1160.0,571.70 1160.5,570.26 1161.0,568.71 1161.5,567.08 1162.0,565.40 1162.5,563.74 1163.0,562.16 1163.5,560.76 1164.0,559.65 1164.5,558.95 1165.0,558.75 1165.5,559.08 1166.0,559.92 1166.5,561.17 1167.0,562.70 1167.5,564.41 1168.0,566.17 1168.5,567.90 1169.0,569.53 1169.5,571.02 1170.0,572.34 1170.5,573.47 1171.0,574.41 1171.5,575.17 1172.0,575.76 1172.5,576.21 1173.0,576.53 1173.5,576.74 1174.0,576.88 1174.5,576.96 1175.0,576.99 1175.5,576.98 1176.0,576.95 1176.5,576.89 1177.0,576.82 1177.5,576.73 1178.0,576.63 1178.5,576.51 1179.0,576.38 1179.5,576.24 1180.0,576.08 1180.5,575.90 1181.0,575.71 1181.5,575.49 1182.0,575.24 1182.5,574.95 1183.0,574.63 1183.5,574.23 1184.0,573.76 1184.5,573.16 1185.0,572.40 1185.5,571.42 1186.0,570.21 1186.5,568.82 1187.0,567.35 1187.5,565.93 1188.0,564.64 1188.5,563.47 1189.0,562.38 1189.5,561.32 1190.0,560.29 1190.5,559.28 1191.0,558.21 1191.5,556.93 1192.0,555.18 1192.5,552.63 1193.0,548.83 1193.5,543.23 1194.0,535.15 1194.5,523.80 1195.0,508.33 1195.5,487.84 1196.0,461.49 1196.5,428.67 1197.0,389.17 1197.5,343.40 1198.0,292.55 1198.5,238.72 1199.0,184.93 1199.5,135.17 1200.0,94.20 1200.5,66.93 1201.0,57.26 1201.5,66.70 1202.0,93.73 1202.5,134.42 1203.0,183.84 1203.5,237.16 1204.0,290.34 1204.5,340.24 1205.0,384.69 1205.5,422.41 1206.0,452.93 1206.5,476.49 1207.0,493.84 1207.5,506.12 1208.0,514.70 1208.5,521.00 1209.0,526.28 1209.5,531.41 1210.0,536.70 1210.5,542.03 1211.0,547.14 1211.5,551.76 1212.0,555.67 1212.5,558.74 1213.0,560.96 1213.5,562.40 1214.0,563.18 1214.5,563.53 1215.0,563.67 1215.5,563.85 1216.0,564.30 1216.5,565.11 1217.0,566.26 1217.5,567.63 1218.0,569.06 1218.5,570.43 1219.0,571.66 1219.5,572.70 1220.0,573.51 1220.5,574.11 1221.0,574.50 1221.5,574.69 1222.0,574.69 1222.5,574.51 1223.0,574.15 1223.5,573.65 1224.0,573.06 1224.5,572.43 1225.0,571.87 1225.5,571.51 1226.0,571.46 1226.5,571.76 1227.0,572.36 1227.5,573.17 1228.0,574.05 1228.5,574.92 1229.0,575.69 1229.5,576.34 1230.0,576.82 1230.5,577.15 1231.0,577.32 1231.5,577.36 1232.0,577.29 1232.5,577.17 1233.0,577.07 1233.5,577.03 1234.0,577.08 1234.5,577.21 1235.0,577.36 1235.5,577.48 1236.0,577.53 1236.5,577.50 1237.0,577.37 1237.5,577.16 1238.0,576.90 1238.5,576.60 1239.0,576.30 1239.5,576.03 1240.0,575.81 1240.5,575.69 1241.0,575.67 1241.5,575.77 1242.0,575.98 1242.5,576.27 1243.0,576.61 1243.5,576.97 1244.0,577.33 1244.5,577.68 1245.0,577.99 1245.5,578.27 1246.0,578.51 1246.5,578.72 1247.0,578.89 1247.5,579.03 1248.0,579.14 1248.5,579.24 1249.0,579.31 1249.5,579.37 1250.0,579.42 1250.5,579.46 1251.0,579.49 1251.5,579.52 1252.0,579.54 1252.5,579.57 1253.0,579.59 1253.5,579.61 1254.0,579.62 1254.5,579.64 1255.0,579.66 1255.5,579.67 1256.0,579.69 1256.5,579.70 1257.0,579.71 1257.5,579.73 1258.0,579.74 1258.5,579.75 1259.0,579.76 1259.5,579.77 1260.0,579.78 1260.5,579.79 1261.0,579.80 1261.5,579.81 1262.0,579.82 1262.5,579.83 1263.0,579.84 1263.5,579.85 1264.0,579.85 1264.5,579.86 1265.0,579.86 1265.5,579.87 1266.0,579.86 1266.5,579.85 1267.0,579.83 1267.5,579.80 1268.0,579.75 1268.5,579.69 1269.0,579.62 1269.5,579.54 1270.0,579.46 1270.5,579.40 1271.0,579.36 1271.5,579.35 1272.0,579.37 1272.5,579.42 1273.0,579.49 1273.5,579.58 1274.0,579.67 1274.5,579.75 1275.0,579.82 1275.5,579.88 1276.0,579.92 1276.5,579.96 1277.0,579.98 1277.5,579.99 1278.0,580.00 1278.5,580.01 1279.0,580.01 1279.5,580.02 1280.0,580.02 1280.5,580.03 1281.0,580.03 1281.5,580.03 1282.0,580.03 1282.5,580.04 1283.0,580.04 1283.5,580.04 1284.0,580.03 1284.5,580.01 1285.0,579.98 1285.5,579.90 1286.0,579.79 1286.5,579.63 1287.0,579.42 1287.5,579.19 1288.0,578.98 1288.5,578.83 1289.0,578.79 1289.5,578.86 1290.0,579.03 1290.5,579.24 1291.0,579.47 1291.5,579.66 1292.0,579.79 1292.5,579.86 1293.0,579.87 1293.5,579.84 1294.0,579.78 1294.5,579.71 1295.0,579.65 1295.5,579.61 1296.0,579.62 1296.5,579.66 1297.0,579.73 1297.5,579.81 1298.0,579.89 1298.5,579.95 1299.0,580.00 1299.5,580.03 1300.0,580.05 1300.5,580.04 1301.0,580.02 1301.5,579.99 1302.0,579.93 1302.5,579.85 1303.0,579.74 1303.5,579.61 1304.0,579.47 1304.5,579.32 1305.0,579.18 1305.5,579.07 1306.0,579.00 1306.5,578.98 1307.0,579.02 1307.5,579.10 1308.0,579.22 1308.5,579.35 1309.0,579.50 1309.5,579.63 1310.0,579.74 1310.5,579.81 1311.0,579.85 1311.5,579.84 1312.0,579.79 1312.5,579.68 1313.0,579.54 1313.5,579.36 1314.0,579.19 1314.5,579.06 1315.0,578.98 1315.5,578.99 1316.0,579.07 1316.5,579.20 1317.0,579.36 1317.5,579.52 1318.0,579.65 1318.5,579.74 1319.0,579.77 1319.5,579.74 1320.0,579.62 1320.5,579.41 1321.0,579.12 1321.5,578.83 1322.0,578.61 1322.5,578.53 1323.0,578.58 1323.5,578.67 1324.0,578.71 1324.5,578.66 1325.0,578.50 1325.5,578.28 1326.0,577.99 1326.5,577.61 1327.0,577.11 1327.5,576.44 1328.0,575.58 1328.5,574.55 1329.0,573.38 1329.5,572.12 1330.0,570.82 1330.5,569.53 1331.0,568.34 1331.5,567.31 1332.0,566.52 1332.5,566.06 1333.0,565.96 1333.5,566.26 1334.0,566.91 1334.5,567.86 1335.0,568.99 1335.5,570.23 1336.0,571.49 1336.5,572.70 1337.0,573.81 1337.5,574.78 1338.0,575.62 1338.5,576.34 1339.0,576.95 1339.5,577.48 1340.0,577.94 1340.5,578.33 1341.0,578.66 1341.5,578.92 1342.0,579.10 1342.5,579.23 1343.0,579.31 1343.5,579.37 1344.0,579.42 1344.5,579.46 1345.0,579.52 1345.5,579.57 1346.0,579.63 1346.5,579.69 1347.0,579.73 1347.5,579.75 1348.0,579.73 1348.5,579.68 1349.0,579.60 1349.5,579.51 1350.0,579.42 1350.5,579.36 1351.0,579.35 1351.5,579.40 1352.0,579.49 1352.5,579.61 1353.0,579.72 1353.5,579.82 1354.0,579.89 1354.5,579.92 1355.0,579.92 1355.5,579.90 1356.0,579.84 1356.5,579.76 1357.0,579.67 1357.5,579.56 1358.0,579.44 1358.5,579.33 1359.0,579.25 1359.5,579.20 1360.0,579.20 1360.5,579.23 1361.0,579.31 1361.5,579.41 1362.0,579.52 1362.5,579.63 1363.0,579.73 1363.5,579.81 1364.0,579.86 1364.5,579.88 1365.0,579.86 1365.5,579.80 1366.0,579.70 1366.5,579.57 1367.0,579.42 1367.5,579.27 1368.0,579.14 1368.5,579.06 1369.0,579.03 1369.5,579.06 1370.0,579.14 1370.5,579.24 1371.0,579.34 1371.5,579.42 1372.0,579.47 1372.5,579.49 1373.0,579.49 1373.5,579.48 1374.0,579.48 1374.5,579.48 1375.0,579.49 1375.5,579.50 1376.0,579.51 1376.5,579.51 1377.0,579.50 1377.5,579.47 1378.0,579.43 1378.5,579.39 1379.0,579.34 1379.5,579.29 1380.0,579.23 1380.5,579.18 1381.0,579.10 1381.5,578.99 1382.0,578.84 1382.5,578.61 1383.0,578.30 1383.5,577.87 1384.0,577.34 1384.5,576.68 1385.0,575.92 1385.5,575.08 1386.0,574.17 1386.5,573.25 1387.0,572.34 1387.5,571.50 1388.0,570.77 1388.5,570.20 1389.0,569.84 1389.5,569.74 1390.0,569.91 1390.5,570.33 1391.0,570.97 1391.5,571.76 1392.0,572.64 1392.5,573.56 1393.0,574.46 1393.5,575.31 1394.0,576.08 1394.5,576.76 1395.0,577.34 1395.5,577.80 1396.0,578.15 1396.5,578.38 1397.0,578.49 1397.5,578.49 1398.0,578.44 1398.5,578.39 1399.0,578.40 1399.5,578.49 1400.0,578.65 1400.5,578.83 1401.0,578.97 1401.5,579.03 1402.0,578.99 1402.5,578.85 1403.0,578.65 1403.5,578.45 1404.0,578.32 1404.5,578.27 1405.0,578.25 1405.5,578.17 1406.0,577.98 1406.5,577.64 1407.0,577.16 1407.5,576.54 1408.0,575.78 1408.5,574.89 1409.0,573.88 1409.5,572.77 1410.0,571.58 1410.5,570.37 1411.0,569.20 1411.5,568.15 1412.0,567.30 1412.5,566.74 1413.0,566.52 1413.5,566.67 1414.0,567.16 1414.5,567.93 1415.0,568.89 1415.5,569.96 1416.0,571.06 1416.5,572.14 1417.0,573.16 1417.5,574.08 1418.0,574.89 1418.5,575.60 1419.0,576.20 1419.5,576.71 1420.0,577.12 1420.5,577.45 1421.0,577.71 1421.5,577.91 1422.0,578.05 1422.5,578.15 1423.0,578.20 1423.5,578.22 1424.0,578.21 1424.5,578.16 1425.0,578.08 1425.5,577.97 1426.0,577.85 1426.5,577.75 1427.0,577.67 1427.5,577.62 1428.0,577.58 1428.5,577.52 1429.0,577.40 1429.5,577.18 1430.0,576.87 1430.5,576.53 1431.0,576.26 1431.5,576.13 1432.0,576.12 1432.5,576.15 1433.0,576.12 1433.5,575.98 1434.0,575.74 1434.5,575.42 1435.0,575.06 1435.5,574.67 1436.0,574.27 1436.5,573.86 1437.0,573.43 1437.5,572.95 1438.0,572.40 1438.5,571.72 1439.0,570.89 1439.5,569.87 1440.0,568.63 1440.5,567.12 1441.0,565.21 1441.5,562.75 1442.0,559.45 1442.5,554.98 1443.0,548.89 1443.5,540.72 1444.0,529.98 1444.5,516.21 1445.0,499.08 1445.5,478.41 1446.0,454.29 1446.5,427.13 1447.0,397.73 1447.5,367.29 1448.0,337.49 1448.5,310.40 1449.0,288.44 1449.5,274.00 1450.0,268.94 1450.5,273.96 1451.0,288.33 1451.5,310.16 1452.0,337.00 1452.5,366.42 1453.0,396.30 1453.5,424.96 1454.0,451.18 1454.5,474.18 1455.0,493.59 1455.5,509.39 1456.0,521.84 1456.5,531.40 1457.0,538.64 1457.5,544.18 1458.0,548.57 1458.5,552.25 1459.0,555.49 1459.5,558.42 1460.0,561.09 1460.5,563.50 1461.0,565.63 1461.5,567.46 1462.0,569.02 1462.5,570.30 1463.0,571.35 1463.5,572.22 1464.0,572.95 1464.5,573.59 1465.0,574.16 1465.5,574.68 1466.0,575.16 1466.5,575.59 1467.0,575.96 1467.5,576.25 1468.0,576.47 1468.5,576.60 1469.0,576.66 1469.5,576.69 1470.0,576.73 1470.5,576.84 1471.0,577.03 1471.5,577.28 1472.0,577.56 1472.5,577.81 1473.0,578.02 1473.5,578.18 1474.0,578.29 1474.5,578.35 1475.0,578.37 1475.5,578.33 1476.0,578.22 1476.5,578.08 1477.0,577.95 1477.5,577.89 1478.0,577.94 1478.5,578.11 1479.0,578.35 1479.5,578.60 1480.0,578.82 1480.5,578.98 1481.0,579.08 1481.5,579.14 1482.0,579.17 1482.5,579.17 1483.0,579.14 1483.5,579.08 1484.0,579.00 1484.5,578.88 1485.0,578.76 1485.5,578.66 1486.0,578.59 1486.5,578.58 1487.0,578.63 1487.5,578.73 1488.0,578.87 1488.5,579.01 1489.0,579.14 1489.5,579.24 1490.0,579.31 1490.5,579.35 1491.0,579.37 1491.5,579.39 1492.0,579.40 1492.5,579.39 1493.0,579.36 1493.5,579.28 1494.0,579.14 1494.5,578.95 1495.0,578.77 1495.5,578.65 1496.0,578.66 1496.5,578.80 1497.0,579.04 1497.5,579.30 1498.0,579.53 1498.5,579.69 1499.0,579.80 1499.5,579.85 1500.0,579.88 1500.5,579.90 1501.0,579.91 1501.5,579.92 1502.0,579.93 1502.5,579.94 1503.0,579.94 1503.5,579.95 1504.0,579.96 1504.5,579.97 1505.0,579.97 1505.5,579.98 1506.0,579.99 1506.5,579.99 1507.0,580.00 1507.5,580.00 1508.0,580.00 1508.5,579.98 1509.0,579.96 1509.5,579.92 1510.0,579.86 1510.5,579.78 1511.0,579.70 1511.5,579.64 1512.0,579.60 1512.5,579.59 1513.0,579.63 1513.5,579.70 1514.0,579.79 1514.5,579.88 1515.0,579.95 1515.5,580.01 1516.0,580.05 1516.5,580.07 1517.0,580.08 1517.5,580.06 1518.0,580.03 1518.5,579.96 1519.0,579.85 1519.5,579.72 1520.0,579.57 1520.5,579.46 1521.0,579.40 1521.5,579.43 1522.0,579.53 1522.5,579.67 1523.0,579.81 1523.5,579.93 1524.0,580.01 1524.5,580.04 1525.0,580.03 1525.5,579.99 1526.0,579.92 1526.5,579.82 1527.0,579.69 1527.5,579.54 1528.0,579.38 1528.5,579.23 1529.0,579.10 1529.5,579.01 1530.0,578.96 1530.5,578.96 1531.0,579.00 1531.5,579.07 1532.0,579.16 1532.5,579.24 1533.0,579.31 1533.5,579.36 1534.0,579.40 1534.5,579.43 1535.0,579.46 1535.5,579.51 1536.0,579.57 1536.5,579.65 1537.0,579.74 1537.5,579.82 1538.0,579.90 1538.5,579.96 1539.0,579.99 1539.5,579.98 1540.0,579.92 1540.5,579.81 1541.0,579.65 1541.5,579.47 1542.0,579.30 1542.5,579.16 1543.0,579.11 1543.5,579.14 1544.0,579.26 1544.5,579.43 1545.0,579.62 1545.5,579.81 1546.0,579.96 1546.5,580.07 1547.0,580.14 1547.5,580.18 1548.0,580.20 1548.5,580.21 1549.0,580.22 1549.5,580.22 1550.0,580.22 1550.5,580.22 1551.0,580.22 1551.5,580.22 1552.0,580.22 1552.5,580.23 1553.0,580.23 1553.5,580.23 1554.0,580.23 1554.5,580.23 1555.0,580.23 1555.5,580.22 1556.0,580.22 1556.5,580.22 1557.0,580.20 1557.5,580.17 1558.0,580.10 1558.5,579.98 1559.0,579.81 1559.5,579.61 1560.0,579.43 1560.5,579.31 1561.0,579.31 1561.5,579.42 1562.0,579.60 1562.5,579.79 1563.0,579.96 1563.5,580.08 1564.0,580.15 1564.5,580.19 1565.0,580.20 1565.5,580.21 1566.0,580.21 1566.5,580.20 1567.0,580.20 1567.5,580.20 1568.0,580.20 1568.5,580.19 1569.0,580.19 1569.5,580.18 1570.0,580.16 1570.5,580.14 1571.0,580.10 1571.5,580.04 1572.0,579.96 1572.5,579.87 1573.0,579.79 1573.5,579.72 1574.0,579.68 1574.5,579.69 1575.0,579.73 1575.5,579.80 1576.0,579.87 1576.5,579.94 1577.0,579.99 1577.5,580.03 1578.0,580.04 1578.5,580.03 1579.0,580.01 1579.5,579.97 1580.0,579.91 1580.5,579.82 1581.0,579.73 1581.5,579.66 1582.0,579.62 1582.5,579.62 1583.0,579.64 1583.5,579.67 1584.0,579.67 1584.5,579.64 1585.0,579.57 1585.5,579.45 1586.0,579.28 1586.5,579.03 1587.0,578.70 1587.5,578.27 1588.0,577.72 1588.5,577.04 1589.0,576.23 1589.5,575.29 1590.0,574.22 1590.5,573.02 1591.0,571.70 1591.5,570.28 1592.0,568.78 1592.5,567.25 1593.0,565.76 1593.5,564.42 1594.0,563.33 1594.5,562.63 1595.0,562.39 1595.5,562.67 1596.0,563.43 1596.5,564.58 1597.0,566.00 1597.5,567.59 1598.0,569.21 1598.5,570.78 1599.0,572.21 1599.5,573.47 1600.0,574.51 1600.5,575.35 1601.0,576.01 1601.5,576.53 1602.0,576.98 1602.5,577.40 1603.0,577.81 1603.5,578.21 1604.0,578.58 1604.5,578.91 1605.0,579.17 1605.5,579.32 1606.0,579.38 1606.5,579.33 1607.0,579.22 1607.5,579.07 1608.0,578.95 1608.5,578.89 1609.0,578.92 1609.5,579.03 1610.0,579.17 1610.5,579.31 1611.0,579.39 1611.5,579.42 1612.0,579.39 1612.5,579.33 1613.0,579.26 1613.5,579.20 1614.0,579.16 1614.5,579.16 1615.0,579.20 1615.5,579.25 1616.0,579.32 1616.5,579.39 1617.0,579.47 1617.5,579.54 1618.0,579.61 1618.5,579.67 1619.0,579.75 1619.5,579.82 1620.0,579.90 1620.5,579.96 1621.0,580.01 1621.5,580.04 1622.0,580.04 1622.5,580.02 1623.0,579.96 1623.5,579.88 1624.0,579.78 1624.5,579.67 1625.0,579.57 1625.5,579.49 1626.0,579.44 1626.5,579.42 1627.0,579.45 1627.5,579.51 1628.0,579.60 1628.5,579.71 1629.0,579.82 1629.5,579.93 1630.0,580.03 1630.5,580.11 1631.0,580.16 1631.5,580.19 1632.0,580.19 1632.5,580.15 1633.0,580.05 1633.5,579.92 1634.0,579.77 1634.5,579.65 1635.0,579.60 1635.5,579.65 1636.0,579.76 1636.5,579.92 1637.0,580.06 1637.5,580.17 1638.0,580.25 1638.5,580.28 1639.0,580.30 1639.5,580.31 1640.0,580.31 1640.5,580.31 1641.0,580.32 1641.5,580.32 1642.0,580.32 1642.5,580.32 1643.0,580.32 1643.5,580.32 1644.0,580.32 1644.5,580.32 1645.0,580.32 1645.5,580.32 1646.0,580.32 1646.5,580.32 1647.0,580.32 1647.5,580.32 1648.0,580.31 1648.5,580.29 1649.0,580.25 1649.5,580.20 1650.0,580.13 1650.5,580.04 1651.0,579.95 1651.5,579.86 1652.0,579.81 1652.5,579.81 1653.0,579.84 1653.5,579.92 1654.0,580.01 1654.5,580.10 1655.0,580.18 1655.5,580.24 1656.0,580.29 1656.5,580.31 1657.0,580.32 1657.5,580.33 1658.0,580.33 1658.5,580.34 1659.0,580.34 1659.5,580.34 1660.0,580.33 1660.5,580.33 1661.0,580.32 1661.5,580.29 1662.0,580.25 1662.5,580.20 1663.0,580.13 1663.5,580.05 1664.0,579.98 1664.5,579.93 1665.0,579.93 1665.5,579.96 1666.0,580.02 1666.5,580.10 1667.0,580.17 1667.5,580.23 1668.0,580.26 1668.5,580.27 1669.0,580.25 1669.5,580.21 1670.0,580.13 1670.5,580.04 1671.0,579.93 1671.5,579.81 1672.0,579.71 1672.5,579.64 1673.0,579.60 1673.5,579.59 1674.0,579.60 1674.5,579.61 1675.0,579.61 1675.5,579.59 1676.0,579.57 1676.5,579.54 1677.0,579.53 1677.5,579.53 1678.0,579.53 1678.5,579.53 1679.0,579.51 1679.5,579.47 1680.0,579.42 1680.5,579.39 1681.0,579.41 1681.5,579.49 1682.0,579.63 1682.5,579.80 1683.0,579.96 1683.5,580.10 1684.0,580.21 1684.5,580.28 1685.0,580.31 1685.5,580.33 1686.0,580.34 1686.5,580.35 1687.0,580.35 1687.5,580.35 1688.0,580.35 1688.5,580.35 1689.0,580.35 1689.5,580.34 1690.0,580.33 1690.5,580.31 1691.0,580.27 1691.5,580.21 1692.0,580.14 1692.5,580.05 1693.0,579.96 1693.5,579.90 1694.0,579.88 1694.5,579.89 1695.0,579.94 1695.5,579.99 1696.0,580.03 1696.5,580.04 1697.0,579.99 1697.5,579.90 1698.0,579.77 1698.5,579.60 1699.0,579.40 1699.5,579.18 1700.0,578.96 1700.5,578.75 1701.0,578.55 1701.5,578.38 1702.0,578.24 1702.5,578.16 1703.0,578.15 1703.5,578.20 1704.0,578.34 1704.5,578.53 1705.0,578.78 1705.5,579.05 1706.0,579.32 1706.5,579.57 1707.0,579.78 1707.5,579.93 1708.0,580.00 1708.5,579.97 1709.0,579.87 1709.5,579.72 1710.0,579.63 1710.5,579.64 1711.0,579.77 1711.5,579.96 1712.0,580.13 1712.5,580.25 1713.0,580.31 1713.5,580.34 1714.0,580.33 1714.5,580.26 1715.0,580.09 1715.5,579.75 1716.0,579.21 1716.5,578.58 1717.0,578.10 1717.5,578.01 1718.0,578.35 1718.5,578.93 1719.0,579.47 1719.5,579.82 1720.0,579.96 1720.5,579.95 1721.0,579.86 1721.5,579.75 1722.0,579.64 1722.5,579.55 1723.0,579.49 1723.5,579.48 1724.0,579.51 1724.5,579.58 1725.0,579.68 1725.5,579.79 1726.0,579.91 1726.5,580.02 1727.0,580.10 1727.5,580.16 1728.0,580.19 1728.5,580.19 1729.0,580.15 1729.5,580.08 1730.0,579.99 1730.5,579.88 1731.0,579.76 1731.5,579.67 1732.0,579.59 1732.5,579.53 1733.0,579.48 1733.5,579.43 1734.0,579.37 1734.5,579.30 1735.0,579.26 1735.5,579.27 1736.0,579.36 1736.5,579.51 1737.0,579.70 1737.5,579.88 1738.0,580.03 1738.5,580.12 1739.0,580.14 1739.5,580.11 1740.0,580.02 1740.5,579.92 1741.0,579.81 1741.5,579.72 1742.0,579.68 1742.5,579.69 1743.0,579.75 1743.5,579.85 1744.0,579.96 1744.5,580.08 1745.0,580.17 1745.5,580.23 1746.0,580.27 1746.5,580.28 1747.0,580.27 1747.5,580.24 1748.0,580.19 1748.5,580.14 1749.0,580.09 1749.5,580.03 1750.0,579.98 1750.5,579.95 1751.0,579.94 1751.5,579.95 1752.0,579.98 1752.5,580.03 1753.0,580.08 1753.5,580.14 1754.0,580.19 1754.5,580.23 1755.0,580.24 1755.5,580.20 1756.0,580.09 1756.5,579.92 1757.0,579.75 1757.5,579.65 1758.0,579.68 1758.5,579.82 1759.0,580.01 1759.5,580.17 1760.0,580.27 1760.5,580.32 1761.0,580.34 1761.5,580.34 1762.0,580.34 1762.5,580.34 1763.0,580.34 1763.5,580.34 1764.0,580.34 1764.5,580.34 1765.0,580.34 1765.5,580.34 1766.0,580.34 1766.5,580.34 1767.0,580.34 1767.5,580.34 1768.0,580.33 1768.5,580.31 1769.0,580.27 1769.5,580.18 1770.0,580.04 1770.5,579.84 1771.0,579.62 1771.5,579.42 1772.0,579.33 1772.5,579.36 1773.0,579.51 1773.5,579.73 1774.0,579.94 1774.5,580.10 1775.0,580.20 1775.5,580.23 1776.0,580.19 1776.5,580.11 1777.0,580.00 1777.5,579.91 1778.0,579.87 1778.5,579.90 1779.0,579.99 1779.5,580.10 1780.0,580.20 1780.5,580.26 1781.0,580.29 1781.5,580.29 1782.0,580.27 1782.5,580.23 1783.0,580.16 1783.5,580.06 1784.0,579.93 1784.5,579.78 1785.0,579.62 1785.5,579.47 1786.0,579.35 1786.5,579.30 1787.0,579.32 1787.5,579.41 1788.0,579.54 1788.5,579.70 1789.0,579.86 1789.5,580.00 1790.0,580.10 1790.5,580.18 1791.0,580.22 1791.5,580.23 1792.0,580.22 1792.5,580.18 1793.0,580.11 1793.5,580.02 1794.0,579.92 1794.5,579.82 1795.0,579.73 1795.5,579.69 1796.0,579.69 1796.5,579.73 1797.0,579.81 1797.5,579.91 1798.0,580.00 1798.5,580.08 1799.0,580.14 1799.5,580.16 1800.0,580.15 1800.5,580.10 1801.0,580.00 1801.5,579.85 1802.0,579.67 1802.5,579.48 1803.0,579.29 1803.5,579.14 1804.0,579.07 1804.5,579.09 1805.0,579.19 1805.5,579.35 1806.0,579.54 1806.5,579.73 1807.0,579.89 1807.5,580.01 1808.0,580.09 1808.5,580.15 1809.0,580.17 1809.5,580.18 1810.0,580.19 1810.5,580.19 1811.0,580.18 1811.5,580.18 1812.0,580.17 1812.5,580.16 1813.0,580.16 1813.5,580.15 1814.0,580.14 1814.5,580.13 1815.0,580.12 1815.5,580.11 1816.0,580.10 1816.5,580.09 1817.0,580.08 1817.5,580.07 1818.0,580.06 1818.5,580.04 1819.0,580.03 1819.5,580.01 1820.0,579.98 1820.5,579.95 1821.0,579.90 1821.5,579.82 1822.0,579.71 1822.5,579.57 1823.0,579.40 1823.5,579.21 1824.0,579.01 1824.5,578.85 1825.0,578.73 1825.5,578.69 1826.0,578.71 1826.5,578.79 1827.0,578.91 1827.5,579.03 1828.0,579.14 1828.5,579.22 1829.0,579.25 1829.5,579.25 1830.0,579.20 1830.5,579.11 1831.0,578.95 1831.5,578.69 1832.0,578.34 1832.5,577.94 1833.0,577.56 1833.5,577.27 1834.0,577.07 1834.5,576.84 1835.0,576.46 1835.5,575.82 1836.0,574.83 1836.5,573.47 1837.0,571.69 1837.5,569.45 1838.0,566.69 1838.5,563.40 1839.0,559.59 1839.5,555.30 1840.0,550.64 1840.5,545.77 1841.0,540.90 1841.5,536.33 1842.0,532.39 1842.5,529.42 1843.0,527.76 1843.5,527.61 1844.0,528.98 1844.5,531.70 1845.0,535.48 1845.5,539.95 1846.0,544.77 1846.5,549.65 1847.0,554.34 1847.5,558.67 1848.0,562.53 1848.5,565.84 1849.0,568.60 1849.5,570.83 1850.0,572.59 1850.5,573.96 1851.0,575.02 1851.5,575.85 1852.0,576.52 1852.5,577.08 1853.0,577.55 1853.5,577.95 1854.0,578.29 1854.5,578.56 1855.0,578.79 1855.5,578.97 1856.0,579.11 1856.5,579.21 1857.0,579.28 1857.5,579.30 1858.0,579.24 1858.5,579.11 1859.0,578.92 1859.5,578.75 1860.0,578.69 1860.5,578.78 1861.0,579.01 1861.5,579.29 1862.0,579.53 1862.5,579.70 1863.0,579.81 1863.5,579.87 1864.0,579.90 1864.5,579.93 1865.0,579.95 1865.5,579.97 1866.0,579.99 1866.5,580.00 1867.0,580.02 1867.5,580.03 1868.0,580.04 1868.5,580.05 1869.0,580.03 1869.5,579.98 1870.0,579.86 1870.5,579.67 1871.0,579.42 1871.5,579.18 1872.0,579.04 1872.5,579.05 1873.0,579.22 1873.5,579.47 1874.0,579.74 1874.5,579.94 1875.0,580.07 1875.5,580.14 1876.0,580.17 1876.5,580.18 1877.0,580.18 1877.5,580.16 1878.0,580.14 1878.5,580.10 1879.0,580.05 1879.5,580.00 1880.0,579.97 1880.5,579.96 1881.0,579.98 1881.5,580.02 1882.0,580.08 1882.5,580.13 1883.0,580.18 1883.5,580.21 1884.0,580.23 1884.5,580.23 1885.0,580.22 1885.5,580.17 1886.0,580.09 1886.5,579.97 1887.0,579.84 1887.5,579.70 1888.0,579.61 1888.5,579.58 1889.0,579.64 1889.5,579.75 1890.0,579.90 1890.5,580.03 1891.0,580.13 1891.5,580.17 1892.0,580.13 1892.5,579.98 1893.0,579.74 1893.5,579.47 1894.0,579.30 1894.5,579.32 1895.0,579.53 1895.5,579.81 1896.0,580.05 1896.5,580.20 1897.0,580.26 1897.5,580.28 1898.0,580.26 1898.5,580.22 1899.0,580.17 1899.5,580.09 1900.0,579.99 1900.5,579.87 1901.0,579.73 1901.5,579.59 1902.0,579.47 1902.5,579.37 1903.0,579.31 1903.5,579.31 1904.0,579.36 1904.5,579.45 1905.0,579.58 1905.5,579.71 1906.0,579.84 1906.5,579.93 1907.0,579.97 1907.5,579.95 1908.0,579.84 1908.5,579.66 1909.0,579.45 1909.5,579.24 1910.0,579.09 1910.5,579.07 1911.0,579.16 1911.5,579.36 1912.0,579.60 1912.5,579.84 1913.0,580.04 1913.5,580.17 1914.0,580.26 1914.5,580.31 1915.0,580.33 1915.5,580.34 1916.0,580.35 1916.5,580.35 1917.0,580.35 1917.5,580.35 1918.0,580.34 1918.5,580.33 1919.0,580.32 1919.5,580.29 1920.0,580.25 1920.5,580.19 1921.0,580.12 1921.5,580.03 1922.0,579.93 1922.5,579.84 1923.0,579.77 1923.5,579.72 1924.0,579.71 1924.5,579.74 1925.0,579.79 1925.5,579.85 1926.0,579.90 1926.5,579.91 1927.0,579.87 1927.5,579.76 1928.0,579.59 1928.5,579.41 1929.0,579.26 1929.5,579.18 1930.0,579.21 1930.5,579.34 1931.0,579.53 1931.5,579.75 1932.0,579.96 1932.5,580.12 1933.0,580.23 1933.5,580.30 1934.0,580.33 1934.5,580.35 1935.0,580.35 1935.5,580.35 1936.0,580.34 1936.5,580.32 1937.0,580.28 1937.5,580.23 1938.0,580.15 1938.5,580.04 1939.0,579.91 1939.5,579.75 1940.0,579.58 1940.5,579.42 1941.0,579.28 1941.5,579.18 1942.0,579.13 1942.5,579.14 1943.0,579.22 1943.5,579.34 1944.0,579.50 1944.5,579.67 1945.0,579.83 1945.5,579.97 1946.0,580.07 1946.5,580.13 1947.0,580.15 1947.5,580.11 1948.0,580.03 1948.5,579.92 1949.0,579.79 1949.5,579.67 1950.0,579.59 1950.5,579.58 1951.0,579.64 1951.5,579.74 1952.0,579.88 1952.5,580.02 1953.0,580.14 1953.5,580.23 1954.0,580.30 1954.5,580.33 1955.0,580.35 1955.5,580.36 1956.0,580.37 1956.5,580.37 1957.0,580.36 1957.5,580.34 1958.0,580.29 1958.5,580.22 1959.0,580.10 1959.5,579.95 1960.0,579.77 1960.5,579.62 1961.0,579.53 1961.5,579.53 1962.0,579.62 1962.5,579.77 1963.0,579.95 1963.5,580.10 1964.0,580.22 1964.5,580.29 1965.0,580.33 1965.5,580.34 1966.0,580.32 1966.5,580.26 1967.0,580.16 1967.5,580.02 1968.0,579.88 1968.5,579.76 1969.0,579.72 1969.5,579.77 1970.0,579.88 1970.5,580.03 1971.0,580.16 1971.5,580.26 1972.0,580.32 1972.5,580.36 1973.0,580.37 1973.5,580.38 1974.0,580.38 1974.5,580.38 1975.0,580.38 1975.5,580.38 1976.0,580.38 1976.5,580.38 1977.0,580.38 1977.5,580.37 1978.0,580.37 1978.5,580.34 1979.0,580.28 1979.5,580.17 1980.0,579.99 1980.5,579.75 1981.0,579.49 1981.5,579.30 1982.0,579.25 1982.5,579.35 1983.0,579.57 1983.5,579.83 1984.0,580.06 1984.5,580.22 1985.0,580.31 1985.5,580.35 1986.0,580.37 1986.5,580.38 1987.0,580.38 1987.5,580.37 1988.0,580.36 1988.5,580.32 1989.0,580.25 1989.5,580.15 1990.0,580.03 1990.5,579.95 1991.0,579.94 1991.5,580.01 1992.0,580.12 1992.5,580.22 1993.0,580.28 1993.5,580.29 1994.0,580.26 1994.5,580.17 1995.0,580.05 1995.5,579.89 1996.0,579.70 1996.5,579.52 1997.0,579.39 1997.5,579.32 1998.0,579.34 1998.5,579.44 1999.0,579.58 1999.5,579.73 2000.0,579.85 2000.5,579.94 2001.0,579.99 2001.5,580.03 2002.0,580.05 2002.5,580.07 2003.0,580.03 2003.5,579.91 2004.0,579.72 2004.5,579.47 2005.0,579.27 2005.5,579.18 2006.0,579.24 2006.5,579.44 2007.0,579.70 2007.5,579.95 2008.0,580.14 2008.5,580.26 2009.0,580.29 2009.5,580.27 2010.0,580.20 2010.5,580.10 2011.0,580.03 2011.5,580.01 2012.0,580.06 2012.5,580.15 2013.0,580.25 2013.5,580.32 2014.0,580.36 2014.5,580.38 2015.0,580.38 2015.5,580.38 2016.0,580.38 2016.5,580.38 2017.0,580.38 2017.5,580.38 2018.0,580.38 2018.5,580.38 2019.0,580.38 2019.5,580.38 2020.0,580.38 2020.5,580.38 2021.0,580.39 2021.5,580.39 2022.0,580.39 2022.5,580.39 2023.0,580.39 2023.5,580.39 2024.0,580.39 2024.5,580.39 2025.0,580.39 2025.5,580.39 2026.0,580.39 2026.5,580.39 2027.0,580.39 2027.5,580.38 2028.0,580.38 2028.5,580.36 2029.0,580.31 2029.5,580.19 2030.0,579.97 2030.5,579.60 2031.0,579.12 2031.5,578.61 2032.0,578.22 2032.5,578.10 2033.0,578.30 2033.5,578.73 2034.0,579.24 2034.5,579.69 2035.0,580.00 2035.5,580.15 2036.0,580.17 2036.5,580.08 2037.0,579.92 2037.5,579.72 2038.0,579.51 2038.5,579.35 2039.0,579.29" fill="none" stroke="#ff0000" stroke-width="5.0" stroke-linejoin="round" stroke-linecap="butt"/>
<polyline points="4.0,1149.48 4.5,1149.48 5.0,1149.48 5.5,1149.48 6.0,1149.48 6.5,1149.48 7.0,1149.47 7.5,1149.47 8.0,1149.47 8.5,1149.47 9.0,1149.47 9.5,1149.47 10.0,1149.47 10.5,1149.47 11.0,1149.47 11.5,1149.47 12.0,1149.47 12.5,1149.47 13.0,1149.47 13.5,1149.47 14.0,1149.47 14.5,1149.47 15.0,1149.47 15.5,1149.47 16.0,1149.47 16.5,1149.47 17.0,1149.47 17.5,1149.47 18.0,1149.47 18.5,1149.46 19.0,1149.45 19.5,1149.43 20.0,1149.37 20.5,1149.28 21.0,1149.12 21.5,1148.93 22.0,1148.72 22.5,1148.55 23.0,1148.48 23.5,1148.52 24.0,1148.67 24.5,1148.87 25.0,1149.07 25.5,1149.22 26.0,1149.30 26.5,1149.33 27.0,1149.32 27.5,1149.28 28.0,1149.22 28.5,1149.15 29.0,1149.10 29.5,1149.06 30.0,1149.04 30.5,1149.05 31.0,1149.08 31.5,1149.10 32.0,1149.12 32.5,1149.08 33.0,1148.99 33.5,1148.83 34.0,1148.61 34.5,1148.38 35.0,1148.19 35.5,1148.08 36.0,1148.08 36.5,1148.16 37.0,1148.29 37.5,1148.41 38.0,1148.50 38.5,1148.55 39.0,1148.57 39.5,1148.59 40.0,1148.62 40.5,1148.68 41.0,1148.76 41.5,1148.84 42.0,1148.91 42.5,1148.91 43.0,1148.85 43.5,1148.73 44.0,1148.60 44.5,1148.54 45.0,1148.59 45.5,1148.72 46.0,1148.87 46.5,1148.99 47.0,1149.03 47.5,1149.01 48.0,1148.92 48.5,1148.79 49.0,1148.61 49.5,1148.39 50.0,1148.14 50.5,1147.84 51.0,1147.51 51.5,1147.15 52.0,1146.77 52.5,1146.37 53.0,1145.98 53.5,1145.61 54.0,1145.27 54.5,1144.98 55.0,1144.78 55.5,1144.70 56.0,1144.76 56.5,1144.99 57.0,1145.37 57.5,1145.86 58.0,1146.38 58.5,1146.87 59.0,1147.28 59.5,1147.58 60.0,1147.78 60.5,1147.88 61.0,1147.93 61.5,1147.94 62.0,1147.96 62.5,1148.00 63.0,1148.08 63.5,1148.20 64.0,1148.35 64.5,1148.52 65.0,1148.69 65.5,1148.84 66.0,1148.94 66.5,1149.00 67.0,1148.98 67.5,1148.91 68.0,1148.80 68.5,1148.70 69.0,1148.63 69.5,1148.64 70.0,1148.72 70.5,1148.86 71.0,1149.02 71.5,1149.16 72.0,1149.27 72.5,1149.35 73.0,1149.39 73.5,1149.41 74.0,1149.42 74.5,1149.43 75.0,1149.43 75.5,1149.44 76.0,1149.44 76.5,1149.44 77.0,1149.44 77.5,1149.44 78.0,1149.44 78.5,1149.44 79.0,1149.44 79.5,1149.44 80.0,1149.44 80.5,1149.44 81.0,1149.44 81.5,1149.44 82.0,1149.42 82.5,1149.38 83.0,1149.32 83.5,1149.20 84.0,1149.03 84.5,1148.82 85.0,1148.60 85.5,1148.40 86.0,1148.29 86.5,1148.29 87.0,1148.41 87.5,1148.61 88.0,1148.84 88.5,1149.05 89.0,1149.21 89.5,1149.32 90.0,1149.39 90.5,1149.42 91.0,1149.43 91.5,1149.42 92.0,1149.39 92.5,1149.30 93.0,1149.16 93.5,1148.95 94.0,1148.71 94.5,1148.51 95.0,1148.42 95.5,1148.47 96.0,1148.64 96.5,1148.87 97.0,1149.10 97.5,1149.26 98.0,1149.37 98.5,1149.42 99.0,1149.44 99.5,1149.45 100.0,1149.45 100.5,1149.45 101.0,1149.45 101.5,1149.45 102.0,1149.45 102.5,1149.45 103.0,1149.45 103.5,1149.45 104.0,1149.45 104.5,1149.44 105.0,1149.42 105.5,1149.40 106.0,1149.36 106.5,1149.31 107.0,1149.25 107.5,1149.19 108.0,1149.13 108.5,1149.10 109.0,1149.09 109.5,1149.11 110.0,1149.15 110.5,1149.20 111.0,1149.24 111.5,1149.25 112.0,1149.22 112.5,1149.13 113.0,1148.99 113.5,1148.81 114.0,1148.61 114.5,1148.42 115.0,1148.29 115.5,1148.22 116.0,1148.25 116.5,1148.36 117.0,1148.52 117.5,1148.70 118.0,1148.84 118.5,1148.93 119.0,1148.94 119.5,1148.88 120.0,1148.75 120.5,1148.59 121.0,1148.42 121.5,1148.28 122.0,1148.20 122.5,1148.19 123.0,1148.27 123.5,1148.41 124.0,1148.59 124.5,1148.78 125.0,1148.96 125.5,1149.11 126.0,1149.23 126.5,1149.31 127.0,1149.36 127.5,1149.39 128.0,1149.40 128.5,1149.40 129.0,1149.39 129.5,1149.34 130.0,1149.25 130.5,1149.07 131.0,1148.77 131.5,1148.34 132.0,1147.81 132.5,1147.29 133.0,1146.89 133.5,1146.72 134.0,1146.81 134.5,1147.10 135.0,1147.48 135.5,1147.85 136.0,1148.14 136.5,1148.35 137.0,1148.49 137.5,1148.61 138.0,1148.71 138.5,1148.80 139.0,1148.89 139.5,1148.96 140.0,1149.00 140.5,1149.01 141.0,1149.00 141.5,1148.99 142.0,1148.99 142.5,1149.02 143.0,1149.06 143.5,1149.12 144.0,1149.18 144.5,1149.22 145.0,1149.26 145.5,1149.28 146.0,1149.28 146.5,1149.28 147.0,1149.28 147.5,1149.27 148.0,1149.26 148.5,1149.25 149.0,1149.24 149.5,1149.22 150.0,1149.21 150.5,1149.19 151.0,1149.17 151.5,1149.14 152.0,1149.11 152.5,1149.07 153.0,1149.01 153.5,1148.93 154.0,1148.83 154.5,1148.71 155.0,1148.57 155.5,1148.41 156.0,1148.23 156.5,1148.06 157.0,1147.89 157.5,1147.73 158.0,1147.58 158.5,1147.43 159.0,1147.25 159.5,1147.02 160.0,1146.69 160.5,1146.24 161.0,1145.62 161.5,1144.81 162.0,1143.80 162.5,1142.59 163.0,1141.18 163.5,1139.61 164.0,1137.93 164.5,1136.21 165.0,1134.56 165.5,1133.07 166.0,1131.87 166.5,1131.08 167.0,1130.79 167.5,1131.00 168.0,1131.65 168.5,1132.59 169.0,1133.68 169.5,1134.82 170.0,1136.03 170.5,1137.36 171.0,1138.89 171.5,1140.57 172.0,1142.28 172.5,1143.81 173.0,1145.04 173.5,1145.92 174.0,1146.49 174.5,1146.83 175.0,1147.02 175.5,1147.12 176.0,1147.20 176.5,1147.26 177.0,1147.33 177.5,1147.39 178.0,1147.43 178.5,1147.44 179.0,1147.45 179.5,1147.49 180.0,1147.59 180.5,1147.75 181.0,1147.94 181.5,1148.10 182.0,1148.19 182.5,1148.17 183.0,1148.03 183.5,1147.78 184.0,1147.43 184.5,1147.00 185.0,1146.50 185.5,1145.96 186.0,1145.39 186.5,1144.83 187.0,1144.29 187.5,1143.80 188.0,1143.40 188.5,1143.09 189.0,1142.92 189.5,1142.88 190.0,1142.98 190.5,1143.20 191.0,1143.53 191.5,1143.94 192.0,1144.40 192.5,1144.91 193.0,1145.45 193.5,1146.00 194.0,1146.54 194.5,1147.04 195.0,1147.49 195.5,1147.87 196.0,1148.17 196.5,1148.39 197.0,1148.53 197.5,1148.61 198.0,1148.64 198.5,1148.62 199.0,1148.56 199.5,1148.45 200.0,1148.31 200.5,1148.12 201.0,1147.91 201.5,1147.67 202.0,1147.41 202.5,1147.14 203.0,1146.89 203.5,1146.66 204.0,1146.47 204.5,1146.35 205.0,1146.30 205.5,1146.33 206.0,1146.42 206.5,1146.56 207.0,1146.71 207.5,1146.85 208.0,1146.98 208.5,1147.08 209.0,1147.19 209.5,1147.32 210.0,1147.50 210.5,1147.72 211.0,1147.97 211.5,1148.25 212.0,1148.51 212.5,1148.74 213.0,1148.92 213.5,1149.05 214.0,1149.13 214.5,1149.16 215.0,1149.12 215.5,1149.02 216.0,1148.87 216.5,1148.67 217.0,1148.50 217.5,1148.39 218.0,1148.39 218.5,1148.50 219.0,1148.67 219.5,1148.85 220.0,1148.99 220.5,1149.08 221.0,1149.10 221.5,1149.09 222.0,1149.06 222.5,1149.03 223.0,1149.01 223.5,1149.00 224.0,1149.01 224.5,1149.03 225.0,1149.06 225.5,1149.07 226.0,1149.03 226.5,1148.95 227.0,1148.83 227.5,1148.73 228.0,1148.69 228.5,1148.75 229.0,1148.86 229.5,1148.98 230.0,1149.05 230.5,1149.05 231.0,1148.98 231.5,1148.88 232.0,1148.77 232.5,1148.66 233.0,1148.57 233.5,1148.52 234.0,1148.51 234.5,1148.55 235.0,1148.63 235.5,1148.74 236.0,1148.86 236.5,1148.98 237.0,1149.09 237.5,1149.18 238.0,1149.24 238.5,1149.27 239.0,1149.27 239.5,1149.23 240.0,1149.15 240.5,1149.03 241.0,1148.88 241.5,1148.70 242.0,1148.51 242.5,1148.35 243.0,1148.23 243.5,1148.18 244.0,1148.20 244.5,1148.29 245.0,1148.44 245.5,1148.62 246.0,1148.81 246.5,1148.98 247.0,1149.12 247.5,1149.22 248.0,1149.30 248.5,1149.35 249.0,1149.38 249.5,1149.39 250.0,1149.40 250.5,1149.40 251.0,1149.39 251.5,1149.38 252.0,1149.36 252.5,1149.33 253.0,1149.29 253.5,1149.23 254.0,1149.17 254.5,1149.09 255.0,1149.00 255.5,1148.91 256.0,1148.82 256.5,1148.73 257.0,1148.64 257.5,1148.57 258.0,1148.49 258.5,1148.43 259.0,1148.37 259.5,1148.32 260.0,1148.29 260.5,1148.29 261.0,1148.33 261.5,1148.40 262.0,1148.50 262.5,1148.62 263.0,1148.76 263.5,1148.90 264.0,1149.02 264.5,1149.12 265.0,1149.20 265.5,1149.25 266.0,1149.27 266.5,1149.24 267.0,1149.17 267.5,1149.09 268.0,1149.02 268.5,1149.01 269.0,1149.06 269.5,1149.15 270.0,1149.24 270.5,1149.30 271.0,1149.33 271.5,1149.34 272.0,1149.33 272.5,1149.32 273.0,1149.29 273.5,1149.25 274.0,1149.21 274.5,1149.17 275.0,1149.13 275.5,1149.09 276.0,1149.07 276.5,1149.07 277.0,1149.08 277.5,1149.10 278.0,1149.13 278.5,1149.17 279.0,1149.21 279.5,1149.23 280.0,1149.26 280.5,1149.27 281.0,1149.28 281.5,1149.28 282.0,1149.28 282.5,1149.27 283.0,1149.27 283.5,1149.26 284.0,1149.25 284.5,1149.25 285.0,1149.24 285.5,1149.23 286.0,1149.22 286.5,1149.21 287.0,1149.20 287.5,1149.19 288.0,1149.18 288.5,1149.16 289.0,1149.15 289.5,1149.13 290.0,1149.12 290.5,1149.10 291.0,1149.08 291.5,1149.06 292.0,1149.03 292.5,1148.98 293.0,1148.93 293.5,1148.85 294.0,1148.76 294.5,1148.67 295.0,1148.58 295.5,1148.52 296.0,1148.49 296.5,1148.49 297.0,1148.49 297.5,1148.47 298.0,1148.42 298.5,1148.33 299.0,1148.17 299.5,1147.95 300.0,1147.66 300.5,1147.32 301.0,1146.92 301.5,1146.45 302.0,1145.88 302.5,1145.16 303.0,1144.22 303.5,1143.01 304.0,1141.47 304.5,1139.59 305.0,1137.36 305.5,1134.81 306.0,1132.00 306.5,1129.00 307.0,1125.93 307.5,1122.91 308.0,1120.15 308.5,1117.85 309.0,1116.26 309.5,1115.54 310.0,1115.82 310.5,1117.05 311.0,1119.09 311.5,1121.74 312.0,1124.76 312.5,1127.92 313.0,1131.06 313.5,1134.03 314.0,1136.73 314.5,1139.10 315.0,1141.13 315.5,1142.81 316.0,1144.18 316.5,1145.25 317.0,1146.09 317.5,1146.72 318.0,1147.20 318.5,1147.54 319.0,1147.79 319.5,1147.96 320.0,1148.06 320.5,1148.11 321.0,1148.10 321.5,1148.04 322.0,1147.95 322.5,1147.85 323.0,1147.75 323.5,1147.66 324.0,1147.59 324.5,1147.52 325.0,1147.45 325.5,1147.37 326.0,1147.26 326.5,1147.13 327.0,1146.96 327.5,1146.77 328.0,1146.55 328.5,1146.33 329.0,1146.18 329.5,1146.16 330.0,1146.31 330.5,1146.64 331.0,1147.08 331.5,1147.54 332.0,1147.96 332.5,1148.29 333.0,1148.51 333.5,1148.64 334.0,1148.66 334.5,1148.58 335.0,1148.42 335.5,1148.22 336.0,1148.08 336.5,1148.06 337.0,1148.20 337.5,1148.44 338.0,1148.71 338.5,1148.94 339.0,1149.10 339.5,1149.19 340.0,1149.24 340.5,1149.26 341.0,1149.27 341.5,1149.28 342.0,1149.29 342.5,1149.29 343.0,1149.30 343.5,1149.30 344.0,1149.31 344.5,1149.31 345.0,1149.32 345.5,1149.32 346.0,1149.33 346.5,1149.33 347.0,1149.33 347.5,1149.33 348.0,1149.32 348.5,1149.31 349.0,1149.28 349.5,1149.23 350.0,1149.15 350.5,1149.06 351.0,1148.97 351.5,1148.90 352.0,1148.86 352.5,1148.86 353.0,1148.92 353.5,1149.00 354.0,1149.10 354.5,1149.19 355.0,1149.26 355.5,1149.30 356.0,1149.30 356.5,1149.27 357.0,1149.20 357.5,1149.09 358.0,1148.95 358.5,1148.83 359.0,1148.77 359.5,1148.78 360.0,1148.88 360.5,1149.01 361.0,1149.15 361.5,1149.25 362.0,1149.32 362.5,1149.36 363.0,1149.38 363.5,1149.38 364.0,1149.38 364.5,1149.38 365.0,1149.35 365.5,1149.31 366.0,1149.24 366.5,1149.14 367.0,1149.05 367.5,1148.98 368.0,1148.95 368.5,1148.97 369.0,1148.99 369.5,1148.96 370.0,1148.84 370.5,1148.66 371.0,1148.47 371.5,1148.33 372.0,1148.30 372.5,1148.40 373.0,1148.60 373.5,1148.83 374.0,1149.05 374.5,1149.20 375.0,1149.30 375.5,1149.36 376.0,1149.38 376.5,1149.39 377.0,1149.40 377.5,1149.40 378.0,1149.40 378.5,1149.40 379.0,1149.40 379.5,1149.40 380.0,1149.40 380.5,1149.40 381.0,1149.40 381.5,1149.40 382.0,1149.40 382.5,1149.40 383.0,1149.40 383.5,1149.40 384.0,1149.40 384.5,1149.40 385.0,1149.40 385.5,1149.39 386.0,1149.39 386.5,1149.37 387.0,1149.33 387.5,1149.27 388.0,1149.17 388.5,1149.07 389.0,1148.99 389.5,1148.95 390.0,1148.98 390.5,1149.06 391.0,1149.16 391.5,1149.26 392.0,1149.32 392.5,1149.36 393.0,1149.38 393.5,1149.39 394.0,1149.39 394.5,1149.39 395.0,1149.39 395.5,1149.39 396.0,1149.39 396.5,1149.39 397.0,1149.39 397.5,1149.38 398.0,1149.38 398.5,1149.37 399.0,1149.35 399.5,1149.29 400.0,1149.15 400.5,1148.94 401.0,1148.67 401.5,1148.44 402.0,1148.36 402.5,1148.45 403.0,1148.61 403.5,1148.73 404.0,1148.76 404.5,1148.69 405.0,1148.57 405.5,1148.43 406.0,1148.32 406.5,1148.24 407.0,1148.22 407.5,1148.22 408.0,1148.25 408.5,1148.29 409.0,1148.33 409.5,1148.38 410.0,1148.47 410.5,1148.60 411.0,1148.77 411.5,1148.94 412.0,1149.09 412.5,1149.20 413.0,1149.26 413.5,1149.29 414.0,1149.29 414.5,1149.26 415.0,1149.20 415.5,1149.09 416.0,1148.93 416.5,1148.73 417.0,1148.49 417.5,1148.28 418.0,1148.12 418.5,1148.07 419.0,1148.13 419.5,1148.29 420.0,1148.51 420.5,1148.72 421.0,1148.90 421.5,1149.01 422.0,1149.03 422.5,1148.96 423.0,1148.83 423.5,1148.69 424.0,1148.61 424.5,1148.63 425.0,1148.74 425.5,1148.88 426.0,1148.98 426.5,1149.02 427.0,1148.99 427.5,1148.92 428.0,1148.83 428.5,1148.75 429.0,1148.71 429.5,1148.71 430.0,1148.75 430.5,1148.81 431.0,1148.85 431.5,1148.87 432.0,1148.86 432.5,1148.82 433.0,1148.76 433.5,1148.68 434.0,1148.57 434.5,1148.42 435.0,1148.22 435.5,1147.95 436.0,1147.60 436.5,1147.15 437.0,1146.57 437.5,1145.84 438.0,1144.96 438.5,1143.92 439.0,1142.75 439.5,1141.47 440.0,1140.13 440.5,1138.80 441.0,1137.55 441.5,1136.46 442.0,1135.61 442.5,1135.09 443.0,1134.92 443.5,1135.13 444.0,1135.66 444.5,1136.43 445.0,1137.36 445.5,1138.37 446.0,1139.39 446.5,1140.37 447.0,1141.30 447.5,1142.13 448.0,1142.86 448.5,1143.43 449.0,1143.81 449.5,1143.96 450.0,1143.83 450.5,1143.42 451.0,1142.71 451.5,1141.72 452.0,1140.51 452.5,1139.14 453.0,1137.70 453.5,1136.29 454.0,1135.02 454.5,1134.01 455.0,1133.33 455.5,1133.08 456.0,1133.27 456.5,1133.88 457.0,1134.84 457.5,1136.04 458.0,1137.35 458.5,1138.65 459.0,1139.86 459.5,1140.95 460.0,1141.97 460.5,1142.99 461.0,1144.05 461.5,1145.11 462.0,1146.08 462.5,1146.88 463.0,1147.48 463.5,1147.90 464.0,1148.17 464.5,1148.35 465.0,1148.45 465.5,1148.47 466.0,1148.42 466.5,1148.30 467.0,1148.14 467.5,1147.98 468.0,1147.87 468.5,1147.86 469.0,1147.96 469.5,1148.15 470.0,1148.38 470.5,1148.61 471.0,1148.80 471.5,1148.93 472.0,1149.02 472.5,1149.06 473.0,1149.08 473.5,1149.08 474.0,1149.05 474.5,1149.01 475.0,1148.93 475.5,1148.84 476.0,1148.71 476.5,1148.58 477.0,1148.44 477.5,1148.31 478.0,1148.22 478.5,1148.17 479.0,1148.18 479.5,1148.25 480.0,1148.35 480.5,1148.49 481.0,1148.64 481.5,1148.79 482.0,1148.92 482.5,1149.02 483.0,1149.10 483.5,1149.16 484.0,1149.20 484.5,1149.22 485.0,1149.24 485.5,1149.25 486.0,1149.25 486.5,1149.26 487.0,1149.26 487.5,1149.26 488.0,1149.26 488.5,1149.26 489.0,1149.26 489.5,1149.26 490.0,1149.25 490.5,1149.21 491.0,1149.14 491.5,1148.98 492.0,1148.74 492.5,1148.44 493.0,1148.19 493.5,1148.09 494.0,1148.19 494.5,1148.45 495.0,1148.74 495.5,1148.98 496.0,1149.13 496.5,1149.21 497.0,1149.24 497.5,1149.24 498.0,1149.25 498.5,1149.24 499.0,1149.24 499.5,1149.24 500.0,1149.24 500.5,1149.23 501.0,1149.23 501.5,1149.23 502.0,1149.22 502.5,1149.22 503.0,1149.21 503.5,1149.20 504.0,1149.17 504.5,1149.13 505.0,1149.04 505.5,1148.91 506.0,1148.69 506.5,1148.40 507.0,1148.03 507.5,1147.63 508.0,1147.24 508.5,1146.95 509.0,1146.82 509.5,1146.86 510.0,1147.08 510.5,1147.41 511.0,1147.78 511.5,1148.14 512.0,1148.42 512.5,1148.61 513.0,1148.71 513.5,1148.73 514.0,1148.68 514.5,1148.58 515.0,1148.43 515.5,1148.24 516.0,1148.01 516.5,1147.73 517.0,1147.41 517.5,1147.07 518.0,1146.70 518.5,1146.32 519.0,1145.96 519.5,1145.63 520.0,1145.37 520.5,1145.19 521.0,1145.13 521.5,1145.18 522.0,1145.34 522.5,1145.59 523.0,1145.90 523.5,1146.24 524.0,1146.59 524.5,1146.92 525.0,1147.18 525.5,1147.37 526.0,1147.46 526.5,1147.47 527.0,1147.47 527.5,1147.52 528.0,1147.66 528.5,1147.89 529.0,1148.15 529.5,1148.38 530.0,1148.54 530.5,1148.63 531.0,1148.66 531.5,1148.63 532.0,1148.57 532.5,1148.48 533.0,1148.37 533.5,1148.25 534.0,1148.12 534.5,1148.01 535.0,1147.93 535.5,1147.89 536.0,1147.88 536.5,1147.89 537.0,1147.90 537.5,1147.88 538.0,1147.83 538.5,1147.74 539.0,1147.60 539.5,1147.44 540.0,1147.28 540.5,1147.14 541.0,1147.04 541.5,1147.00 542.0,1147.00 542.5,1147.04 543.0,1147.08 543.5,1147.11 544.0,1147.10 544.5,1147.04 545.0,1146.92 545.5,1146.75 546.0,1146.53 546.5,1146.29 547.0,1146.04 547.5,1145.79 548.0,1145.56 548.5,1145.33 549.0,1145.08 549.5,1144.78 550.0,1144.37 550.5,1143.78 551.0,1142.94 551.5,1141.75 552.0,1140.07 552.5,1137.77 553.0,1134.69 553.5,1130.67 554.0,1125.55 554.5,1119.23 555.0,1111.65 555.5,1102.86 556.0,1093.03 556.5,1082.45 557.0,1071.59 557.5,1061.07 558.0,1051.66 558.5,1044.24 559.0,1039.66 559.5,1038.52 560.0,1040.99 560.5,1046.72 561.0,1054.98 561.5,1064.91 562.0,1075.65 562.5,1086.47 563.0,1096.82 563.5,1106.27 564.0,1114.59 564.5,1121.65 565.0,1127.44 565.5,1132.06 566.0,1135.62 566.5,1138.31 567.0,1140.30 567.5,1141.74 568.0,1142.78 568.5,1143.55 569.0,1144.14 569.5,1144.61 570.0,1145.01 570.5,1145.35 571.0,1145.66 571.5,1145.94 572.0,1146.17 572.5,1146.36 573.0,1146.50 573.5,1146.58 574.0,1146.58 574.5,1146.49 575.0,1146.29 575.5,1145.97 576.0,1145.54 576.5,1145.01 577.0,1144.38 577.5,1143.63 578.0,1142.73 578.5,1141.66 579.0,1140.43 579.5,1139.08 580.0,1137.69 580.5,1136.32 581.0,1135.07 581.5,1134.04 582.0,1133.34 582.5,1133.06 583.0,1133.22 583.5,1133.81 584.0,1134.75 584.5,1135.96 585.0,1137.33 585.5,1138.75 586.0,1140.14 586.5,1141.46 587.0,1142.65 587.5,1143.71 588.0,1144.61 588.5,1145.38 589.0,1146.02 589.5,1146.54 590.0,1146.98 590.5,1147.34 591.0,1147.64 591.5,1147.88 592.0,1148.08 592.5,1148.24 593.0,1148.36 593.5,1148.46 594.0,1148.54 594.5,1148.61 595.0,1148.66 595.5,1148.70 596.0,1148.74 596.5,1148.77 597.0,1148.79 597.5,1148.82 598.0,1148.84 598.5,1148.85 599.0,1148.87 599.5,1148.87 600.0,1148.87 600.5,1148.86 601.0,1148.84 601.5,1148.80 602.0,1148.74 602.5,1148.67 603.0,1148.58 603.5,1148.49 604.0,1148.40 604.5,1148.32 605.0,1148.27 605.5,1148.24 606.0,1148.25 606.5,1148.30 607.0,1148.36 607.5,1148.43 608.0,1148.48 608.5,1148.47 609.0,1148.39 609.5,1148.26 610.0,1148.13 610.5,1148.10 611.0,1148.20 611.5,1148.41 612.0,1148.65 612.5,1148.85 613.0,1148.98 613.5,1149.04 614.0,1149.04 614.5,1148.98 615.0,1148.85 615.5,1148.65 616.0,1148.43 616.5,1148.28 617.0,1148.26 617.5,1148.38 618.0,1148.55 618.5,1148.70 619.0,1148.76 619.5,1148.74 620.0,1148.67 620.5,1148.58 621.0,1148.51 621.5,1148.46 622.0,1148.46 622.5,1148.49 623.0,1148.56 623.5,1148.64 624.0,1148.73 624.5,1148.81 625.0,1148.87 625.5,1148.90 626.0,1148.90 626.5,1148.87 627.0,1148.80 627.5,1148.66 628.0,1148.46 628.5,1148.19 629.0,1147.88 629.5,1147.57 630.0,1147.31 630.5,1147.10 631.0,1146.93 631.5,1146.74 632.0,1146.49 632.5,1146.15 633.0,1145.71 633.5,1145.21 634.0,1144.69 634.5,1144.18 635.0,1143.74 635.5,1143.40 636.0,1143.21 636.5,1143.19 637.0,1143.35 637.5,1143.65 638.0,1144.08 638.5,1144.59 639.0,1145.13 639.5,1145.68 640.0,1146.22 640.5,1146.71 641.0,1147.15 641.5,1147.54 642.0,1147.86 642.5,1148.12 643.0,1148.33 643.5,1148.50 644.0,1148.62 644.5,1148.71 645.0,1148.77 645.5,1148.81 646.0,1148.83 646.5,1148.83 647.0,1148.81 647.5,1148.79 648.0,1148.75 648.5,1148.71 649.0,1148.67 649.5,1148.64 650.0,1148.63 650.5,1148.64 651.0,1148.67 651.5,1148.71 652.0,1148.75 652.5,1148.80 653.0,1148.85 653.5,1148.89 654.0,1148.92 654.5,1148.94 655.0,1148.94 655.5,1148.92 656.0,1148.85 656.5,1148.73 657.0,1148.55 657.5,1148.35 658.0,1148.19 658.5,1148.11 659.0,1148.16 659.5,1148.31 660.0,1148.50 660.5,1148.66 661.0,1148.77 661.5,1148.82 662.0,1148.82 662.5,1148.77 663.0,1148.68 663.5,1148.53 664.0,1148.34 664.5,1148.13 665.0,1147.91 665.5,1147.74 666.0,1147.65 666.5,1147.65 667.0,1147.71 667.5,1147.82 668.0,1147.92 668.5,1147.99 669.0,1148.01 669.5,1147.98 670.0,1147.91 670.5,1147.81 671.0,1147.69 671.5,1147.56 672.0,1147.43 672.5,1147.32 673.0,1147.27 673.5,1147.26 674.0,1147.31 674.5,1147.39 675.0,1147.49 675.5,1147.60 676.0,1147.69 676.5,1147.74 677.0,1147.77 677.5,1147.75 678.0,1147.71 678.5,1147.63 679.0,1147.53 679.5,1147.40 680.0,1147.24 680.5,1147.03 681.0,1146.78 681.5,1146.44 682.0,1146.01 682.5,1145.42 683.0,1144.64 683.5,1143.61 684.0,1142.26 684.5,1140.52 685.0,1138.33 685.5,1135.64 686.0,1132.44 686.5,1128.72 687.0,1124.55 687.5,1120.02 688.0,1115.26 688.5,1110.46 689.0,1105.86 689.5,1101.76 690.0,1098.49 690.5,1096.36 691.0,1095.61 691.5,1096.35 692.0,1098.45 692.5,1101.68 693.0,1105.68 693.5,1110.09 694.0,1114.60 694.5,1118.92 695.0,1122.82 695.5,1126.12 696.0,1128.66 696.5,1130.32 697.0,1131.00 697.5,1130.66 698.0,1129.33 698.5,1127.12 699.0,1124.17 699.5,1120.59 700.0,1116.44 700.5,1111.76 701.0,1106.70 701.5,1101.50 702.0,1096.52 702.5,1092.20 703.0,1088.95 703.5,1087.17 704.0,1087.10 704.5,1088.78 705.0,1092.01 705.5,1096.49 706.0,1101.81 706.5,1107.57 707.0,1113.42 707.5,1119.06 708.0,1124.25 708.5,1128.85 709.0,1132.79 709.5,1136.06 710.0,1138.70 710.5,1140.78 711.0,1142.37 711.5,1143.57 712.0,1144.44 712.5,1145.05 713.0,1145.46 713.5,1145.72 714.0,1145.87 714.5,1145.96 715.0,1146.02 715.5,1146.07 716.0,1146.14 716.5,1146.25 717.0,1146.38 717.5,1146.54 718.0,1146.70 718.5,1146.86 719.0,1146.99 719.5,1147.09 720.0,1147.16 720.5,1147.22 721.0,1147.27 721.5,1147.33 722.0,1147.40 722.5,1147.50 723.0,1147.61 723.5,1147.73 724.0,1147.84 724.5,1147.93 725.0,1147.98 725.5,1147.97 726.0,1147.92 726.5,1147.82 727.0,1147.71 727.5,1147.60 728.0,1147.55 728.5,1147.55 729.0,1147.63 729.5,1147.76 730.0,1147.92 730.5,1148.07 731.0,1148.20 731.5,1148.29 732.0,1148.33 732.5,1148.32 733.0,1148.27 733.5,1148.22 734.0,1148.19 734.5,1148.19 735.0,1148.22 735.5,1148.26 736.0,1148.30 736.5,1148.31 737.0,1148.29 737.5,1148.25 738.0,1148.18 738.5,1148.08 739.0,1147.95 739.5,1147.78 740.0,1147.56 740.5,1147.27 741.0,1146.91 741.5,1146.47 742.0,1145.96 742.5,1145.36 743.0,1144.69 743.5,1143.97 744.0,1143.22 744.5,1142.47 745.0,1141.76 745.5,1141.15 746.0,1140.68 746.5,1140.40 747.0,1140.33 747.5,1140.46 748.0,1140.78 748.5,1141.25 749.0,1141.83 749.5,1142.49 750.0,1143.18 750.5,1143.89 751.0,1144.58 751.5,1145.23 752.0,1145.82 752.5,1146.34 753.0,1146.76 753.5,1147.11 754.0,1147.37 754.5,1147.56 755.0,1147.69 755.5,1147.77 756.0,1147.82 756.5,1147.85 757.0,1147.85 757.5,1147.83 758.0,1147.80 758.5,1147.75 759.0,1147.68 759.5,1147.59 760.0,1147.48 760.5,1147.35 761.0,1147.20 761.5,1147.04 762.0,1146.86 762.5,1146.65 763.0,1146.38 763.5,1146.02 764.0,1145.49 764.5,1144.73 765.0,1143.68 765.5,1142.33 766.0,1140.76 766.5,1139.12 767.0,1137.55 767.5,1136.08 768.0,1134.64 768.5,1133.12 769.0,1131.48 769.5,1129.83 770.0,1128.41 770.5,1127.46 771.0,1127.19 771.5,1127.63 772.0,1128.66 772.5,1130.08 773.0,1131.70 773.5,1133.37 774.0,1135.02 774.5,1136.64 775.0,1138.23 775.5,1139.76 776.0,1141.18 776.5,1142.42 777.0,1143.44 777.5,1144.23 778.0,1144.79 778.5,1145.17 779.0,1145.38 779.5,1145.42 780.0,1145.31 780.5,1145.03 781.0,1144.64 781.5,1144.17 782.0,1143.73 782.5,1143.41 783.0,1143.29 783.5,1143.37 784.0,1143.63 784.5,1143.96 785.0,1144.26 785.5,1144.46 786.0,1144.48 786.5,1144.33 787.0,1144.06 787.5,1143.74 788.0,1143.48 788.5,1143.33 789.0,1143.27 789.5,1143.25 790.0,1143.18 790.5,1143.03 791.0,1142.76 791.5,1142.40 792.0,1141.95 792.5,1141.42 793.0,1140.82 793.5,1140.14 794.0,1139.42 794.5,1138.67 795.0,1137.89 795.5,1137.08 796.0,1136.20 796.5,1135.19 797.0,1133.93 797.5,1132.32 798.0,1130.20 798.5,1127.37 799.0,1123.63 799.5,1118.69 800.0,1112.25 800.5,1103.93 801.0,1093.36 801.5,1080.15 802.0,1063.92 802.5,1044.42 803.0,1021.50 803.5,995.19 804.0,965.79 804.5,933.85 805.0,900.23 805.5,866.13 806.0,833.10 806.5,803.01 807.0,777.96 807.5,760.04 808.0,750.97 808.5,751.67 809.0,761.98 809.5,780.67 810.0,805.81 810.5,835.20 811.0,866.67 811.5,898.36 812.0,928.73 812.5,956.66 813.0,981.40 813.5,1002.60 814.0,1020.29 814.5,1034.80 815.0,1046.76 815.5,1056.94 816.0,1066.09 816.5,1074.77 817.0,1083.20 817.5,1091.32 818.0,1098.95 818.5,1105.89 819.0,1112.02 819.5,1117.32 820.0,1121.81 820.5,1125.56 821.0,1128.61 821.5,1131.00 822.0,1132.76 822.5,1133.91 823.0,1134.52 823.5,1134.63 824.0,1134.28 824.5,1133.45 825.0,1132.11 825.5,1130.23 826.0,1127.79 826.5,1124.77 827.0,1121.21 827.5,1117.20 828.0,1112.88 828.5,1108.43 829.0,1104.13 829.5,1100.26 830.0,1097.18 830.5,1095.23 831.0,1094.66 831.5,1095.56 832.0,1097.84 832.5,1101.25 833.0,1105.47 833.5,1110.14 834.0,1114.96 834.5,1119.68 835.0,1124.12 835.5,1128.14 836.0,1131.66 836.5,1134.66 837.0,1137.15 837.5,1139.15 838.0,1140.74 838.5,1141.96 839.0,1142.87 839.5,1143.54 840.0,1143.99 840.5,1144.27 841.0,1144.40 841.5,1144.38 842.0,1144.22 842.5,1143.91 843.0,1143.45 843.5,1142.84 844.0,1142.08 844.5,1141.20 845.0,1140.22 845.5,1139.19 846.0,1138.16 846.5,1137.20 847.0,1136.36 847.5,1135.71 848.0,1135.34 848.5,1135.28 849.0,1135.57 849.5,1136.18 850.0,1137.05 850.5,1138.13 851.0,1139.31 851.5,1140.53 852.0,1141.72 852.5,1142.82 853.0,1143.78 853.5,1144.60 854.0,1145.25 854.5,1145.74 855.0,1146.08 855.5,1146.29 856.0,1146.41 856.5,1146.48 857.0,1146.52 857.5,1146.58 858.0,1146.69 858.5,1146.84 859.0,1147.03 859.5,1147.24 860.0,1147.46 860.5,1147.67 861.0,1147.84 861.5,1147.98 862.0,1148.09 862.5,1148.17 863.0,1148.22 863.5,1148.26 864.0,1148.28 864.5,1148.28 865.0,1148.26 865.5,1148.20 866.0,1148.10 866.5,1147.96 867.0,1147.80 867.5,1147.62 868.0,1147.47 868.5,1147.37 869.0,1147.35 869.5,1147.42 870.0,1147.56 870.5,1147.75 871.0,1147.96 871.5,1148.15 872.0,1148.31 872.5,1148.44 873.0,1148.53 873.5,1148.58 874.0,1148.62 874.5,1148.64 875.0,1148.65 875.5,1148.66 876.0,1148.66 876.5,1148.64 877.0,1148.62 877.5,1148.57 878.0,1148.49 878.5,1148.39 879.0,1148.27 879.5,1148.13 880.0,1147.98 880.5,1147.85 881.0,1147.76 881.5,1147.72 882.0,1147.74 882.5,1147.82 883.0,1147.94 883.5,1148.08 884.0,1148.22 884.5,1148.34 885.0,1148.41 885.5,1148.44 886.0,1148.41 886.5,1148.34 887.0,1148.24 887.5,1148.13 888.0,1148.03 888.5,1147.95 889.0,1147.91 889.5,1147.87 890.0,1147.84 890.5,1147.79 891.0,1147.71 891.5,1147.60 892.0,1147.49 892.5,1147.40 893.0,1147.35 893.5,1147.35 894.0,1147.39 894.5,1147.45 895.0,1147.52 895.5,1147.60 896.0,1147.67 896.5,1147.75 897.0,1147.83 897.5,1147.93 898.0,1148.04 898.5,1148.16 899.0,1148.28 899.5,1148.39 900.0,1148.48 900.5,1148.55 901.0,1148.60 901.5,1148.62 902.0,1148.62 902.5,1148.57 903.0,1148.44 903.5,1148.22 904.0,1147.93 904.5,1147.65 905.0,1147.52 905.5,1147.57 906.0,1147.77 906.5,1147.98 907.0,1148.11 907.5,1148.13 908.0,1148.03 908.5,1147.84 909.0,1147.56 909.5,1147.18 910.0,1146.69 910.5,1146.08 911.0,1145.37 911.5,1144.59 912.0,1143.79 912.5,1143.04 913.0,1142.39 913.5,1141.86 914.0,1141.48 914.5,1141.25 915.0,1141.18 915.5,1141.25 916.0,1141.46 916.5,1141.78 917.0,1142.19 917.5,1142.66 918.0,1143.14 918.5,1143.62 919.0,1144.08 919.5,1144.53 920.0,1144.96 920.5,1145.37 921.0,1145.78 921.5,1146.17 922.0,1146.54 922.5,1146.87 923.0,1147.16 923.5,1147.40 924.0,1147.58 924.5,1147.71 925.0,1147.78 925.5,1147.79 926.0,1147.75 926.5,1147.66 927.0,1147.52 927.5,1147.36 928.0,1147.22 928.5,1147.13 929.0,1147.10 929.5,1147.14 930.0,1147.22 930.5,1147.29 931.0,1147.33 931.5,1147.32 932.0,1147.24 932.5,1147.10 933.0,1146.89 933.5,1146.64 934.0,1146.36 934.5,1146.10 935.0,1145.90 935.5,1145.78 936.0,1145.74 936.5,1145.75 937.0,1145.75 937.5,1145.71 938.0,1145.58 938.5,1145.35 939.0,1145.01 939.5,1144.58 940.0,1144.06 940.5,1143.49 941.0,1142.91 941.5,1142.32 942.0,1141.66 942.5,1140.85 943.0,1139.74 943.5,1138.21 944.0,1136.13 944.5,1133.39 945.0,1129.87 945.5,1125.47 946.0,1120.01 946.5,1113.33 947.0,1105.25 947.5,1095.66 948.0,1084.55 948.5,1072.01 949.0,1058.29 949.5,1043.78 950.0,1029.02 950.5,1014.69 951.0,1001.61 951.5,990.72 952.0,982.95 952.5,979.07 953.0,979.50 953.5,984.21 954.0,992.67 954.5,1004.07 955.0,1017.47 955.5,1031.96 956.0,1046.73 956.5,1061.15 957.0,1074.70 957.5,1087.04 958.0,1097.94 958.5,1107.27 959.0,1115.05 959.5,1121.38 960.0,1126.46 960.5,1130.52 961.0,1133.80 961.5,1136.47 962.0,1138.60 962.5,1140.28 963.0,1141.56 963.5,1142.52 964.0,1143.23 964.5,1143.78 965.0,1144.20 965.5,1144.52 966.0,1144.76 966.5,1144.93 967.0,1145.03 967.5,1145.06 968.0,1145.03 968.5,1144.94 969.0,1144.80 969.5,1144.61 970.0,1144.36 970.5,1144.05 971.0,1143.66 971.5,1143.18 972.0,1142.63 972.5,1142.03 973.0,1141.43 973.5,1140.90 974.0,1140.50 974.5,1140.30 975.0,1140.32 975.5,1140.58 976.0,1141.02 976.5,1141.61 977.0,1142.28 977.5,1142.98 978.0,1143.66 978.5,1144.29 979.0,1144.84 979.5,1145.30 980.0,1145.68 980.5,1145.99 981.0,1146.25 981.5,1146.51 982.0,1146.77 982.5,1147.04 983.0,1147.31 983.5,1147.57 984.0,1147.81 984.5,1148.00 985.0,1148.15 985.5,1148.26 986.0,1148.34 986.5,1148.40 987.0,1148.43 987.5,1148.45 988.0,1148.45 988.5,1148.44 989.0,1148.41 989.5,1148.37 990.0,1148.33 990.5,1148.28 991.0,1148.25 991.5,1148.24 992.0,1148.26 992.5,1148.30 993.0,1148.37 993.5,1148.45 994.0,1148.54 994.5,1148.61 995.0,1148.68 995.5,1148.74 996.0,1148.78 996.5,1148.81 997.0,1148.83 997.5,1148.85 998.0,1148.86 998.5,1148.87 999.0,1148.88 999.5,1148.89 1000.0,1148.90 1000.5,1148.91 1001.0,1148.91 1001.5,1148.91 1002.0,1148.90 1002.5,1148.89 1003.0,1148.86 1003.5,1148.83 1004.0,1148.78 1004.5,1148.73 1005.0,1148.68 1005.5,1148.65 1006.0,1148.64 1006.5,1148.65 1007.0,1148.69 1007.5,1148.74 1008.0,1148.80 1008.5,1148.86 1009.0,1148.92 1009.5,1148.96 1010.0,1148.99 1010.5,1149.01 1011.0,1149.02 1011.5,1149.03 1012.0,1149.03 1012.5,1149.03 1013.0,1149.03 1013.5,1149.02 1014.0,1149.00 1014.5,1148.98 1015.0,1148.94 1015.5,1148.88 1016.0,1148.81 1016.5,1148.72 1017.0,1148.62 1017.5,1148.52 1018.0,1148.42 1018.5,1148.34 1019.0,1148.28 1019.5,1148.26 1020.0,1148.28 1020.5,1148.33 1021.0,1148.41 1021.5,1148.51 1022.0,1148.62 1022.5,1148.72 1023.0,1148.82 1023.5,1148.90 1024.0,1148.96 1024.5,1149.01 1025.0,1149.04 1025.5,1149.06 1026.0,1149.08 1026.5,1149.09 1027.0,1149.09 1027.5,1149.09 1028.0,1149.09 1028.5,1149.09 1029.0,1149.07 1029.5,1149.05 1030.0,1149.02 1030.5,1148.97 1031.0,1148.91 1031.5,1148.85 1032.0,1148.80 1032.5,1148.76 1033.0,1148.74 1033.5,1148.76 1034.0,1148.80 1034.5,1148.85 1035.0,1148.91 1035.5,1148.97 1036.0,1149.02 1036.5,1149.05 1037.0,1149.07 1037.5,1149.09 1038.0,1149.09 1038.5,1149.10 1039.0,1149.10 1039.5,1149.10 1040.0,1149.10 1040.5,1149.09 1041.0,1149.09 1041.5,1149.09 1042.0,1149.09 1042.5,1149.08 1043.0,1149.05 1043.5,1148.98 1044.0,1148.83 1044.5,1148.60 1045.0,1148.29 1045.5,1148.00 1046.0,1147.85 1046.5,1147.91 1047.0,1148.14 1047.5,1148.45 1048.0,1148.72 1048.5,1148.90 1049.0,1149.00 1049.5,1149.04 1050.0,1149.05 1050.5,1149.05 1051.0,1149.05 1051.5,1149.04 1052.0,1149.04 1052.5,1149.03 1053.0,1149.03 1053.5,1149.03 1054.0,1149.02 1054.5,1149.02 1055.0,1149.01 1055.5,1149.00 1056.0,1149.00 1056.5,1148.99 1057.0,1148.98 1057.5,1148.96 1058.0,1148.91 1058.5,1148.83 1059.0,1148.68 1059.5,1148.48 1060.0,1148.24 1060.5,1148.02 1061.0,1147.89 1061.5,1147.88 1062.0,1148.01 1062.5,1148.21 1063.0,1148.43 1063.5,1148.60 1064.0,1148.71 1064.5,1148.77 1065.0,1148.78 1065.5,1148.78 1066.0,1148.76 1066.5,1148.74 1067.0,1148.71 1067.5,1148.68 1068.0,1148.65 1068.5,1148.61 1069.0,1148.56 1069.5,1148.49 1070.0,1148.40 1070.5,1148.28 1071.0,1148.09 1071.5,1147.82 1072.0,1147.43 1072.5,1146.92 1073.0,1146.29 1073.5,1145.58 1074.0,1144.86 1074.5,1144.18 1075.0,1143.60 1075.5,1143.12 1076.0,1142.70 1076.5,1142.30 1077.0,1141.89 1077.5,1141.45 1078.0,1141.02 1078.5,1140.64 1079.0,1140.33 1079.5,1140.11 1080.0,1139.94 1080.5,1139.77 1081.0,1139.54 1081.5,1139.21 1082.0,1138.74 1082.5,1138.16 1083.0,1137.49 1083.5,1136.77 1084.0,1136.07 1084.5,1135.43 1085.0,1134.89 1085.5,1134.53 1086.0,1134.41 1086.5,1134.57 1087.0,1135.03 1087.5,1135.74 1088.0,1136.63 1088.5,1137.60 1089.0,1138.57 1089.5,1139.44 1090.0,1140.14 1090.5,1140.58 1091.0,1140.71 1091.5,1140.46 1092.0,1139.79 1092.5,1138.67 1093.0,1137.10 1093.5,1135.10 1094.0,1132.72 1094.5,1130.04 1095.0,1127.19 1095.5,1124.32 1096.0,1121.60 1096.5,1119.25 1097.0,1117.46 1097.5,1116.43 1098.0,1116.30 1098.5,1117.07 1099.0,1118.67 1099.5,1120.91 1100.0,1123.56 1100.5,1126.40 1101.0,1129.22 1101.5,1131.90 1102.0,1134.36 1102.5,1136.63 1103.0,1138.74 1103.5,1140.67 1104.0,1142.39 1104.5,1143.82 1105.0,1144.94 1105.5,1145.77 1106.0,1146.37 1106.5,1146.78 1107.0,1147.05 1107.5,1147.23 1108.0,1147.35 1108.5,1147.42 1109.0,1147.46 1109.5,1147.51 1110.0,1147.57 1110.5,1147.63 1111.0,1147.71 1111.5,1147.79 1112.0,1147.85 1112.5,1147.89 1113.0,1147.89 1113.5,1147.88 1114.0,1147.85 1114.5,1147.82 1115.0,1147.81 1115.5,1147.83 1116.0,1147.88 1116.5,1147.97 1117.0,1148.06 1117.5,1148.16 1118.0,1148.24 1118.5,1148.31 1119.0,1148.36 1119.5,1148.39 1120.0,1148.39 1120.5,1148.38 1121.0,1148.36 1121.5,1148.31 1122.0,1148.26 1122.5,1148.19 1123.0,1148.13 1123.5,1148.08 1124.0,1148.05 1124.5,1148.05 1125.0,1148.05 1125.5,1148.06 1126.0,1148.03 1126.5,1147.96 1127.0,1147.84 1127.5,1147.70 1128.0,1147.59 1128.5,1147.54 1129.0,1147.57 1129.5,1147.66 1130.0,1147.76 1130.5,1147.82 1131.0,1147.82 1131.5,1147.75 1132.0,1147.61 1132.5,1147.41 1133.0,1147.13 1133.5,1146.77 1134.0,1146.32 1134.5,1145.77 1135.0,1145.11 1135.5,1144.34 1136.0,1143.47 1136.5,1142.52 1137.0,1141.52 1137.5,1140.51 1138.0,1139.54 1138.5,1138.69 1139.0,1138.02 1139.5,1137.61 1140.0,1137.49 1140.5,1137.67 1141.0,1138.13 1141.5,1138.78 1142.0,1139.54 1142.5,1140.33 1143.0,1141.09 1143.5,1141.80 1144.0,1142.46 1144.5,1143.12 1145.0,1143.80 1145.5,1144.49 1146.0,1145.17 1146.5,1145.77 1147.0,1146.25 1147.5,1146.57 1148.0,1146.72 1148.5,1146.72 1149.0,1146.63 1149.5,1146.53 1150.0,1146.48 1150.5,1146.53 1151.0,1146.63 1151.5,1146.73 1152.0,1146.74 1152.5,1146.65 1153.0,1146.47 1153.5,1146.28 1154.0,1146.16 1154.5,1146.11 1155.0,1146.10 1155.5,1146.07 1156.0,1145.93 1156.5,1145.66 1157.0,1145.23 1157.5,1144.65 1158.0,1143.88 1158.5,1142.92 1159.0,1141.74 1159.5,1140.35 1160.0,1138.73 1160.5,1136.90 1161.0,1134.90 1161.5,1132.76 1162.0,1130.56 1162.5,1128.40 1163.0,1126.45 1163.5,1124.93 1164.0,1124.04 1164.5,1123.94 1165.0,1124.61 1165.5,1125.91 1166.0,1127.63 1166.5,1129.56 1167.0,1131.55 1167.5,1133.48 1168.0,1135.28 1168.5,1136.90 1169.0,1138.29 1169.5,1139.44 1170.0,1140.32 1170.5,1140.96 1171.0,1141.37 1171.5,1141.56 1172.0,1141.58 1172.5,1141.44 1173.0,1141.18 1173.5,1140.81 1174.0,1140.36 1174.5,1139.87 1175.0,1139.37 1175.5,1138.88 1176.0,1138.45 1176.5,1138.11 1177.0,1137.88 1177.5,1137.77 1178.0,1137.79 1178.5,1137.91 1179.0,1138.11 1179.5,1138.36 1180.0,1138.64 1180.5,1138.89 1181.0,1139.10 1181.5,1139.24 1182.0,1139.27 1182.5,1139.20 1183.0,1139.03 1183.5,1138.75 1184.0,1138.37 1184.5,1137.89 1185.0,1137.32 1185.5,1136.65 1186.0,1135.86 1186.5,1134.93 1187.0,1133.83 1187.5,1132.53 1188.0,1130.98 1188.5,1129.11 1189.0,1126.84 1189.5,1124.07 1190.0,1120.65 1190.5,1116.41 1191.0,1111.11 1191.5,1104.44 1192.0,1096.08 1192.5,1085.65 1193.0,1072.77 1193.5,1057.06 1194.0,1038.20 1194.5,1015.94 1195.0,990.13 1195.5,960.79 1196.0,928.12 1196.5,892.51 1197.0,854.63 1197.5,815.37 1198.0,775.92 1198.5,737.73 1199.0,702.49 1199.5,672.10 1200.0,648.46 1200.5,633.29 1201.0,627.76 1201.5,632.26 1202.0,646.28 1202.5,668.53 1203.0,697.20 1203.5,730.30 1204.0,765.83 1204.5,801.99 1205.0,837.30 1205.5,870.62 1206.0,901.21 1206.5,928.72 1207.0,953.13 1207.5,974.76 1208.0,994.13 1208.5,1011.79 1209.0,1028.17 1209.5,1043.38 1210.0,1057.32 1210.5,1069.82 1211.0,1080.74 1211.5,1090.02 1212.0,1097.70 1212.5,1103.90 1213.0,1108.78 1213.5,1112.59 1214.0,1115.59 1214.5,1118.02 1215.0,1120.12 1215.5,1122.06 1216.0,1123.91 1216.5,1125.72 1217.0,1127.46 1217.5,1129.10 1218.0,1130.60 1218.5,1131.93 1219.0,1133.11 1219.5,1134.19 1220.0,1135.21 1220.5,1136.24 1221.0,1137.29 1221.5,1138.34 1222.0,1139.35 1222.5,1140.27 1223.0,1141.05 1223.5,1141.67 1224.0,1142.13 1224.5,1142.46 1225.0,1142.71 1225.5,1142.93 1226.0,1143.14 1226.5,1143.38 1227.0,1143.65 1227.5,1143.94 1228.0,1144.25 1228.5,1144.54 1229.0,1144.81 1229.5,1145.04 1230.0,1145.24 1230.5,1145.41 1231.0,1145.55 1231.5,1145.66 1232.0,1145.72 1232.5,1145.68 1233.0,1145.53 1233.5,1145.32 1234.0,1145.15 1234.5,1145.17 1235.0,1145.42 1235.5,1145.81 1236.0,1146.19 1236.5,1146.49 1237.0,1146.68 1237.5,1146.80 1238.0,1146.88 1238.5,1146.95 1239.0,1147.01 1239.5,1147.08 1240.0,1147.13 1240.5,1147.19 1241.0,1147.24 1241.5,1147.29 1242.0,1147.34 1242.5,1147.38 1243.0,1147.41 1243.5,1147.42 1244.0,1147.42 1244.5,1147.38 1245.0,1147.32 1245.5,1147.24 1246.0,1147.16 1246.5,1147.09 1247.0,1147.07 1247.5,1147.09 1248.0,1147.17 1248.5,1147.30 1249.0,1147.45 1249.5,1147.59 1250.0,1147.72 1250.5,1147.82 1251.0,1147.88 1251.5,1147.90 1252.0,1147.89 1252.5,1147.84 1253.0,1147.75 1253.5,1147.62 1254.0,1147.47 1254.5,1147.31 1255.0,1147.16 1255.5,1147.05 1256.0,1146.99 1256.5,1146.99 1257.0,1147.05 1257.5,1147.15 1258.0,1147.27 1258.5,1147.37 1259.0,1147.46 1259.5,1147.51 1260.0,1147.54 1260.5,1147.56 1261.0,1147.58 1261.5,1147.61 1262.0,1147.66 1262.5,1147.71 1263.0,1147.76 1263.5,1147.79 1264.0,1147.79 1264.5,1147.76 1265.0,1147.71 1265.5,1147.66 1266.0,1147.62 1266.5,1147.58 1267.0,1147.55 1267.5,1147.51 1268.0,1147.49 1268.5,1147.47 1269.0,1147.49 1269.5,1147.57 1270.0,1147.69 1270.5,1147.85 1271.0,1148.03 1271.5,1148.20 1272.0,1148.33 1272.5,1148.42 1273.0,1148.47 1273.5,1148.47 1274.0,1148.44 1274.5,1148.39 1275.0,1148.32 1275.5,1148.24 1276.0,1148.16 1276.5,1148.09 1277.0,1148.04 1277.5,1148.02 1278.0,1148.03 1278.5,1148.07 1279.0,1148.13 1279.5,1148.22 1280.0,1148.31 1280.5,1148.40 1281.0,1148.48 1281.5,1148.54 1282.0,1148.58 1282.5,1148.57 1283.0,1148.50 1283.5,1148.39 1284.0,1148.25 1284.5,1148.13 1285.0,1148.07 1285.5,1148.10 1286.0,1148.22 1286.5,1148.37 1287.0,1148.52 1287.5,1148.62 1288.0,1148.68 1288.5,1148.69 1289.0,1148.67 1289.5,1148.62 1290.0,1148.54 1290.5,1148.44 1291.0,1148.32 1291.5,1148.20 1292.0,1148.09 1292.5,1148.01 1293.0,1147.98 1293.5,1148.00 1294.0,1148.06 1294.5,1148.16 1295.0,1148.27 1295.5,1148.37 1296.0,1148.43 1296.5,1148.43 1297.0,1148.37 1297.5,1148.29 1298.0,1148.22 1298.5,1148.20 1299.0,1148.26 1299.5,1148.35 1300.0,1148.44 1300.5,1148.49 1301.0,1148.46 1301.5,1148.36 1302.0,1148.20 1302.5,1147.99 1303.0,1147.77 1303.5,1147.58 1304.0,1147.45 1304.5,1147.41 1305.0,1147.45 1305.5,1147.56 1306.0,1147.71 1306.5,1147.85 1307.0,1147.97 1307.5,1148.05 1308.0,1148.09 1308.5,1148.10 1309.0,1148.10 1309.5,1148.09 1310.0,1148.07 1310.5,1148.05 1311.0,1148.02 1311.5,1147.99 1312.0,1147.97 1312.5,1147.95 1313.0,1147.95 1313.5,1147.96 1314.0,1148.00 1314.5,1148.05 1315.0,1148.10 1315.5,1148.12 1316.0,1148.10 1316.5,1148.00 1317.0,1147.80 1317.5,1147.52 1318.0,1147.23 1318.5,1147.03 1319.0,1147.00 1319.5,1147.15 1320.0,1147.38 1320.5,1147.60 1321.0,1147.73 1321.5,1147.77 1322.0,1147.72 1322.5,1147.61 1323.0,1147.45 1323.5,1147.23 1324.0,1146.97 1324.5,1146.67 1325.0,1146.31 1325.5,1145.91 1326.0,1145.44 1326.5,1144.89 1327.0,1144.21 1327.5,1143.37 1328.0,1142.32 1328.5,1141.04 1329.0,1139.53 1329.5,1137.84 1330.0,1136.02 1330.5,1134.13 1331.0,1132.25 1331.5,1130.43 1332.0,1128.75 1332.5,1127.26 1333.0,1126.05 1333.5,1125.22 1334.0,1124.83 1334.5,1124.92 1335.0,1125.44 1335.5,1126.31 1336.0,1127.39 1336.5,1128.55 1337.0,1129.61 1337.5,1130.42 1338.0,1130.84 1338.5,1130.72 1339.0,1129.91 1339.5,1128.31 1340.0,1125.83 1340.5,1122.40 1341.0,1118.04 1341.5,1112.81 1342.0,1106.84 1342.5,1100.35 1343.0,1093.65 1343.5,1087.12 1344.0,1081.24 1344.5,1076.53 1345.0,1073.48 1345.5,1072.49 1346.0,1073.68 1346.5,1076.93 1347.0,1081.86 1347.5,1087.98 1348.0,1094.78 1348.5,1101.82 1349.0,1108.72 1349.5,1115.19 1350.0,1121.04 1350.5,1126.14 1351.0,1130.46 1351.5,1134.03 1352.0,1136.91 1352.5,1139.20 1353.0,1141.01 1353.5,1142.45 1354.0,1143.57 1354.5,1144.44 1355.0,1145.10 1355.5,1145.59 1356.0,1145.94 1356.5,1146.19 1357.0,1146.35 1357.5,1146.46 1358.0,1146.51 1358.5,1146.53 1359.0,1146.53 1359.5,1146.52 1360.0,1146.52 1360.5,1146.55 1361.0,1146.59 1361.5,1146.65 1362.0,1146.73 1362.5,1146.80 1363.0,1146.86 1363.5,1146.89 1364.0,1146.89 1364.5,1146.85 1365.0,1146.80 1365.5,1146.76 1366.0,1146.74 1366.5,1146.75 1367.0,1146.82 1367.5,1146.93 1368.0,1147.08 1368.5,1147.26 1369.0,1147.43 1369.5,1147.60 1370.0,1147.73 1370.5,1147.84 1371.0,1147.92 1371.5,1147.98 1372.0,1148.01 1372.5,1148.02 1373.0,1148.00 1373.5,1147.95 1374.0,1147.85 1374.5,1147.70 1375.0,1147.51 1375.5,1147.33 1376.0,1147.20 1376.5,1147.17 1377.0,1147.23 1377.5,1147.33 1378.0,1147.42 1378.5,1147.44 1379.0,1147.38 1379.5,1147.24 1380.0,1147.02 1380.5,1146.71 1381.0,1146.29 1381.5,1145.73 1382.0,1145.01 1382.5,1144.10 1383.0,1142.97 1383.5,1141.61 1384.0,1140.02 1384.5,1138.23 1385.0,1136.29 1385.5,1134.32 1386.0,1132.41 1386.5,1130.71 1387.0,1129.36 1387.5,1128.47 1388.0,1128.14 1388.5,1128.38 1389.0,1129.16 1389.5,1130.38 1390.0,1131.92 1390.5,1133.63 1391.0,1135.41 1391.5,1137.16 1392.0,1138.80 1392.5,1140.28 1393.0,1141.57 1393.5,1142.67 1394.0,1143.58 1394.5,1144.32 1395.0,1144.91 1395.5,1145.38 1396.0,1145.73 1396.5,1145.99 1397.0,1146.16 1397.5,1146.25 1398.0,1146.29 1398.5,1146.28 1399.0,1146.26 1399.5,1146.25 1400.0,1146.25 1400.5,1146.29 1401.0,1146.34 1401.5,1146.40 1402.0,1146.44 1402.5,1146.44 1403.0,1146.39 1403.5,1146.27 1404.0,1146.06 1404.5,1145.75 1405.0,1145.32 1405.5,1144.74 1406.0,1143.98 1406.5,1143.02 1407.0,1141.82 1407.5,1140.38 1408.0,1138.67 1408.5,1136.72 1409.0,1134.55 1409.5,1132.23 1410.0,1129.84 1410.5,1127.51 1411.0,1125.38 1411.5,1123.61 1412.0,1122.38 1412.5,1121.81 1413.0,1121.98 1413.5,1122.85 1414.0,1124.29 1414.5,1126.15 1415.0,1128.23 1415.5,1130.38 1416.0,1132.46 1416.5,1134.40 1417.0,1136.14 1417.5,1137.69 1418.0,1139.04 1418.5,1140.22 1419.0,1141.26 1419.5,1142.14 1420.0,1142.89 1420.5,1143.48 1421.0,1143.92 1421.5,1144.23 1422.0,1144.42 1422.5,1144.51 1423.0,1144.54 1423.5,1144.51 1424.0,1144.45 1424.5,1144.35 1425.0,1144.24 1425.5,1144.11 1426.0,1143.96 1426.5,1143.79 1427.0,1143.60 1427.5,1143.38 1428.0,1143.12 1428.5,1142.81 1429.0,1142.44 1429.5,1142.00 1430.0,1141.51 1430.5,1141.02 1431.0,1140.57 1431.5,1140.16 1432.0,1139.79 1432.5,1139.42 1433.0,1139.00 1433.5,1138.51 1434.0,1137.93 1434.5,1137.27 1435.0,1136.54 1435.5,1135.71 1436.0,1134.76 1436.5,1133.65 1437.0,1132.32 1437.5,1130.68 1438.0,1128.63 1438.5,1126.03 1439.0,1122.68 1439.5,1118.37 1440.0,1112.81 1440.5,1105.66 1441.0,1096.54 1441.5,1085.02 1442.0,1070.67 1442.5,1053.05 1443.0,1031.78 1443.5,1006.59 1444.0,977.33 1444.5,944.09 1445.0,907.15 1445.5,867.11 1446.0,824.90 1446.5,781.87 1447.0,739.89 1447.5,701.29 1448.0,668.57 1448.5,644.09 1449.0,629.74 1449.5,626.71 1450.0,635.27 1450.5,654.62 1451.0,683.09 1451.5,718.43 1452.0,758.28 1452.5,800.41 1453.0,842.89 1453.5,884.15 1454.0,922.98 1454.5,958.53 1455.0,990.26 1455.5,1017.94 1456.0,1041.56 1456.5,1061.31 1457.0,1077.53 1457.5,1090.63 1458.0,1101.04 1458.5,1109.21 1459.0,1115.56 1459.5,1120.42 1460.0,1124.12 1460.5,1126.94 1461.0,1129.11 1461.5,1130.87 1462.0,1132.38 1462.5,1133.74 1463.0,1134.96 1463.5,1136.04 1464.0,1136.98 1464.5,1137.78 1465.0,1138.46 1465.5,1139.08 1466.0,1139.65 1466.5,1140.19 1467.0,1140.71 1467.5,1141.20 1468.0,1141.65 1468.5,1142.07 1469.0,1142.45 1469.5,1142.79 1470.0,1143.07 1470.5,1143.29 1471.0,1143.43 1471.5,1143.51 1472.0,1143.52 1472.5,1143.51 1473.0,1143.50 1473.5,1143.56 1474.0,1143.72 1474.5,1143.98 1475.0,1144.32 1475.5,1144.69 1476.0,1145.05 1476.5,1145.37 1477.0,1145.62 1477.5,1145.82 1478.0,1145.98 1478.5,1146.10 1479.0,1146.20 1479.5,1146.28 1480.0,1146.35 1480.5,1146.40 1481.0,1146.43 1481.5,1146.43 1482.0,1146.41 1482.5,1146.35 1483.0,1146.26 1483.5,1146.12 1484.0,1145.96 1484.5,1145.77 1485.0,1145.58 1485.5,1145.41 1486.0,1145.29 1486.5,1145.24 1487.0,1145.27 1487.5,1145.39 1488.0,1145.58 1488.5,1145.83 1489.0,1146.11 1489.5,1146.40 1490.0,1146.67 1490.5,1146.92 1491.0,1147.12 1491.5,1147.25 1492.0,1147.30 1492.5,1147.23 1493.0,1147.07 1493.5,1146.89 1494.0,1146.82 1494.5,1146.92 1495.0,1147.18 1495.5,1147.49 1496.0,1147.76 1496.5,1147.93 1497.0,1148.03 1497.5,1148.09 1498.0,1148.12 1498.5,1148.15 1499.0,1148.17 1499.5,1148.19 1500.0,1148.21 1500.5,1148.23 1501.0,1148.25 1501.5,1148.27 1502.0,1148.29 1502.5,1148.30 1503.0,1148.30 1503.5,1148.29 1504.0,1148.26 1504.5,1148.21 1505.0,1148.13 1505.5,1148.01 1506.0,1147.88 1506.5,1147.73 1507.0,1147.59 1507.5,1147.49 1508.0,1147.44 1508.5,1147.45 1509.0,1147.53 1509.5,1147.66 1510.0,1147.82 1510.5,1147.97 1511.0,1148.11 1511.5,1148.21 1512.0,1148.26 1512.5,1148.27 1513.0,1148.22 1513.5,1148.14 1514.0,1148.03 1514.5,1147.92 1515.0,1147.83 1515.5,1147.77 1516.0,1147.75 1516.5,1147.79 1517.0,1147.87 1517.5,1147.98 1518.0,1148.11 1518.5,1148.24 1519.0,1148.35 1519.5,1148.44 1520.0,1148.50 1520.5,1148.53 1521.0,1148.54 1521.5,1148.53 1522.0,1148.50 1522.5,1148.45 1523.0,1148.41 1523.5,1148.36 1524.0,1148.33 1524.5,1148.30 1525.0,1148.26 1525.5,1148.21 1526.0,1148.12 1526.5,1147.99 1527.0,1147.81 1527.5,1147.62 1528.0,1147.44 1528.5,1147.30 1529.0,1147.20 1529.5,1147.12 1530.0,1147.03 1530.5,1146.90 1531.0,1146.71 1531.5,1146.47 1532.0,1146.17 1532.5,1145.85 1533.0,1145.52 1533.5,1145.23 1534.0,1145.02 1534.5,1144.94 1535.0,1145.02 1535.5,1145.26 1536.0,1145.62 1536.5,1146.04 1537.0,1146.48 1537.5,1146.88 1538.0,1147.21 1538.5,1147.47 1539.0,1147.65 1539.5,1147.76 1540.0,1147.81 1540.5,1147.81 1541.0,1147.79 1541.5,1147.76 1542.0,1147.75 1542.5,1147.77 1543.0,1147.82 1543.5,1147.91 1544.0,1148.01 1544.5,1148.11 1545.0,1148.20 1545.5,1148.25 1546.0,1148.28 1546.5,1148.26 1547.0,1148.19 1547.5,1148.07 1548.0,1147.90 1548.5,1147.67 1549.0,1147.39 1549.5,1147.06 1550.0,1146.70 1550.5,1146.32 1551.0,1145.93 1551.5,1145.53 1552.0,1145.13 1552.5,1144.70 1553.0,1144.24 1553.5,1143.72 1554.0,1143.16 1554.5,1142.56 1555.0,1141.95 1555.5,1141.39 1556.0,1140.92 1556.5,1140.61 1557.0,1140.50 1557.5,1140.61 1558.0,1140.94 1558.5,1141.44 1559.0,1142.07 1559.5,1142.76 1560.0,1143.48 1560.5,1144.19 1561.0,1144.84 1561.5,1145.42 1562.0,1145.91 1562.5,1146.30 1563.0,1146.56 1563.5,1146.72 1564.0,1146.76 1564.5,1146.73 1565.0,1146.66 1565.5,1146.60 1566.0,1146.59 1566.5,1146.64 1567.0,1146.76 1567.5,1146.92 1568.0,1147.09 1568.5,1147.23 1569.0,1147.33 1569.5,1147.37 1570.0,1147.36 1570.5,1147.31 1571.0,1147.22 1571.5,1147.12 1572.0,1147.01 1572.5,1146.92 1573.0,1146.83 1573.5,1146.77 1574.0,1146.71 1574.5,1146.66 1575.0,1146.60 1575.5,1146.53 1576.0,1146.43 1576.5,1146.31 1577.0,1146.17 1577.5,1146.00 1578.0,1145.82 1578.5,1145.62 1579.0,1145.39 1579.5,1145.13 1580.0,1144.85 1580.5,1144.53 1581.0,1144.16 1581.5,1143.72 1582.0,1143.21 1582.5,1142.58 1583.0,1141.79 1583.5,1140.79 1584.0,1139.50 1584.5,1137.81 1585.0,1135.59 1585.5,1132.70 1586.0,1128.94 1586.5,1124.13 1587.0,1118.05 1587.5,1110.51 1588.0,1101.35 1588.5,1090.48 1589.0,1077.88 1589.5,1063.65 1590.0,1048.05 1590.5,1031.48 1591.0,1014.50 1591.5,997.87 1592.0,982.50 1592.5,969.43 1593.0,959.75 1593.5,954.38 1594.0,953.91 1594.5,958.40 1595.0,967.35 1595.5,979.88 1596.0,994.90 1596.5,1011.37 1597.0,1028.34 1597.5,1045.03 1598.0,1060.83 1598.5,1075.33 1599.0,1088.24 1599.5,1099.44 1600.0,1108.91 1600.5,1116.75 1601.0,1123.09 1601.5,1128.14 1602.0,1132.08 1602.5,1135.13 1603.0,1137.46 1603.5,1139.22 1604.0,1140.56 1604.5,1141.56 1605.0,1142.32 1605.5,1142.91 1606.0,1143.39 1606.5,1143.80 1607.0,1144.19 1607.5,1144.57 1608.0,1144.94 1608.5,1145.28 1609.0,1145.58 1609.5,1145.85 1610.0,1146.07 1610.5,1146.27 1611.0,1146.45 1611.5,1146.60 1612.0,1146.75 1612.5,1146.88 1613.0,1147.00 1613.5,1147.11 1614.0,1147.22 1614.5,1147.32 1615.0,1147.41 1615.5,1147.49 1616.0,1147.57 1616.5,1147.65 1617.0,1147.72 1617.5,1147.78 1618.0,1147.85 1618.5,1147.91 1619.0,1147.96 1619.5,1148.01 1620.0,1148.06 1620.5,1148.11 1621.0,1148.15 1621.5,1148.20 1622.0,1148.24 1622.5,1148.27 1623.0,1148.31 1623.5,1148.34 1624.0,1148.38 1624.5,1148.41 1625.0,1148.43 1625.5,1148.46 1626.0,1148.48 1626.5,1148.50 1627.0,1148.50 1627.5,1148.50 1628.0,1148.49 1628.5,1148.47 1629.0,1148.44 1629.5,1148.40 1630.0,1148.36 1630.5,1148.32 1631.0,1148.28 1631.5,1148.24 1632.0,1148.21 1632.5,1148.16 1633.0,1148.10 1633.5,1148.02 1634.0,1147.91 1634.5,1147.79 1635.0,1147.68 1635.5,1147.61 1636.0,1147.60 1636.5,1147.67 1637.0,1147.80 1637.5,1147.99 1638.0,1148.18 1638.5,1148.36 1639.0,1148.49 1639.5,1148.57 1640.0,1148.60 1640.5,1148.59 1641.0,1148.56 1641.5,1148.54 1642.0,1148.52 1642.5,1148.54 1643.0,1148.58 1643.5,1148.64 1644.0,1148.72 1644.5,1148.79 1645.0,1148.87 1645.5,1148.92 1646.0,1148.97 1646.5,1149.00 1647.0,1149.03 1647.5,1149.04 1648.0,1149.05 1648.5,1149.06 1649.0,1149.07 1649.5,1149.07 1650.0,1149.06 1650.5,1149.03 1651.0,1148.97 1651.5,1148.86 1652.0,1148.70 1652.5,1148.53 1653.0,1148.37 1653.5,1148.29 1654.0,1148.31 1654.5,1148.42 1655.0,1148.60 1655.5,1148.78 1656.0,1148.93 1656.5,1149.02 1657.0,1149.06 1657.5,1149.05 1658.0,1149.01 1658.5,1148.94 1659.0,1148.82 1659.5,1148.68 1660.0,1148.51 1660.5,1148.33 1661.0,1148.17 1661.5,1148.04 1662.0,1147.98 1662.5,1148.00 1663.0,1148.08 1663.5,1148.23 1664.0,1148.40 1664.5,1148.58 1665.0,1148.75 1665.5,1148.89 1666.0,1148.97 1666.5,1149.00 1667.0,1148.95 1667.5,1148.85 1668.0,1148.73 1668.5,1148.64 1669.0,1148.62 1669.5,1148.69 1670.0,1148.81 1670.5,1148.92 1671.0,1148.98 1671.5,1148.97 1672.0,1148.91 1672.5,1148.80 1673.0,1148.65 1673.5,1148.49 1674.0,1148.32 1674.5,1148.17 1675.0,1148.06 1675.5,1148.00 1676.0,1148.00 1676.5,1148.06 1677.0,1148.17 1677.5,1148.32 1678.0,1148.48 1678.5,1148.63 1679.0,1148.74 1679.5,1148.80 1680.0,1148.81 1680.5,1148.78 1681.0,1148.71 1681.5,1148.64 1682.0,1148.59 1682.5,1148.60 1683.0,1148.65 1683.5,1148.75 1684.0,1148.87 1684.5,1148.98 1685.0,1149.08 1685.5,1149.15 1686.0,1149.20 1686.5,1149.22 1687.0,1149.21 1687.5,1149.19 1688.0,1149.16 1688.5,1149.10 1689.0,1149.04 1689.5,1148.97 1690.0,1148.91 1690.5,1148.86 1691.0,1148.85 1691.5,1148.86 1692.0,1148.90 1692.5,1148.96 1693.0,1149.03 1693.5,1149.10 1694.0,1149.16 1694.5,1149.20 1695.0,1149.23 1695.5,1149.25 1696.0,1149.26 1696.5,1149.27 1697.0,1149.27 1697.5,1149.27 1698.0,1149.28 1698.5,1149.28 1699.0,1149.28 1699.5,1149.28 1700.0,1149.28 1700.5,1149.27 1701.0,1149.27 1701.5,1149.27 1702.0,1149.25 1702.5,1149.24 1703.0,1149.21 1703.5,1149.18 1704.0,1149.13 1704.5,1149.08 1705.0,1149.02 1705.5,1148.95 1706.0,1148.89 1706.5,1148.84 1707.0,1148.80 1707.5,1148.79 1708.0,1148.81 1708.5,1148.85 1709.0,1148.90 1709.5,1148.96 1710.0,1149.03 1710.5,1149.09 1711.0,1149.14 1711.5,1149.19 1712.0,1149.22 1712.5,1149.24 1713.0,1149.25 1713.5,1149.26 1714.0,1149.27 1714.5,1149.27 1715.0,1149.27 1715.5,1149.27 1716.0,1149.27 1716.5,1149.27 1717.0,1149.27 1717.5,1149.27 1718.0,1149.26 1718.5,1149.26 1719.0,1149.26 1719.5,1149.26 1720.0,1149.26 1720.5,1149.25 1721.0,1149.25 1721.5,1149.25 1722.0,1149.25 1722.5,1149.24 1723.0,1149.24 1723.5,1149.23 1724.0,1149.23 1724.5,1149.22 1725.0,1149.21 1725.5,1149.20 1726.0,1149.19 1726.5,1149.16 1727.0,1149.12 1727.5,1149.04 1728.0,1148.91 1728.5,1148.71 1729.0,1148.44 1729.5,1148.14 1730.0,1147.88 1730.5,1147.73 1731.0,1147.68 1731.5,1147.71 1732.0,1147.75 1732.5,1147.74 1733.0,1147.67 1733.5,1147.56 1734.0,1147.44 1734.5,1147.33 1735.0,1147.26 1735.5,1147.24 1736.0,1147.26 1736.5,1147.32 1737.0,1147.40 1737.5,1147.48 1738.0,1147.54 1738.5,1147.59 1739.0,1147.62 1739.5,1147.64 1740.0,1147.66 1740.5,1147.71 1741.0,1147.79 1741.5,1147.90 1742.0,1148.04 1742.5,1148.20 1743.0,1148.35 1743.5,1148.48 1744.0,1148.57 1744.5,1148.61 1745.0,1148.59 1745.5,1148.53 1746.0,1148.43 1746.5,1148.31 1747.0,1148.19 1747.5,1148.10 1748.0,1148.05 1748.5,1148.04 1749.0,1148.09 1749.5,1148.18 1750.0,1148.30 1750.5,1148.45 1751.0,1148.60 1751.5,1148.73 1752.0,1148.85 1752.5,1148.93 1753.0,1148.96 1753.5,1148.95 1754.0,1148.88 1754.5,1148.75 1755.0,1148.58 1755.5,1148.37 1756.0,1148.16 1756.5,1148.00 1757.0,1147.92 1757.5,1147.93 1758.0,1148.03 1758.5,1148.17 1759.0,1148.33 1759.5,1148.46 1760.0,1148.52 1760.5,1148.52 1761.0,1148.45 1761.5,1148.34 1762.0,1148.19 1762.5,1148.06 1763.0,1147.94 1763.5,1147.87 1764.0,1147.86 1764.5,1147.90 1765.0,1148.00 1765.5,1148.13 1766.0,1148.28 1766.5,1148.43 1767.0,1148.57 1767.5,1148.69 1768.0,1148.78 1768.5,1148.85 1769.0,1148.88 1769.5,1148.90 1770.0,1148.89 1770.5,1148.85 1771.0,1148.77 1771.5,1148.66 1772.0,1148.52 1772.5,1148.37 1773.0,1148.23 1773.5,1148.12 1774.0,1148.02 1774.5,1147.87 1775.0,1147.62 1775.5,1147.22 1776.0,1146.65 1776.5,1145.92 1777.0,1145.08 1777.5,1144.25 1778.0,1143.56 1778.5,1143.04 1779.0,1142.67 1779.5,1142.37 1780.0,1142.10 1780.5,1141.87 1781.0,1141.72 1781.5,1141.70 1782.0,1141.79 1782.5,1141.98 1783.0,1142.24 1783.5,1142.55 1784.0,1142.90 1784.5,1143.29 1785.0,1143.72 1785.5,1144.22 1786.0,1144.75 1786.5,1145.31 1787.0,1145.85 1787.5,1146.29 1788.0,1146.60 1788.5,1146.76 1789.0,1146.83 1789.5,1146.92 1790.0,1147.13 1790.5,1147.45 1791.0,1147.80 1791.5,1148.09 1792.0,1148.27 1792.5,1148.36 1793.0,1148.38 1793.5,1148.36 1794.0,1148.32 1794.5,1148.26 1795.0,1148.18 1795.5,1148.07 1796.0,1147.93 1796.5,1147.73 1797.0,1147.48 1797.5,1147.15 1798.0,1146.72 1798.5,1146.18 1799.0,1145.52 1799.5,1144.73 1800.0,1143.81 1800.5,1142.76 1801.0,1141.62 1801.5,1140.42 1802.0,1139.20 1802.5,1138.04 1803.0,1137.02 1803.5,1136.22 1804.0,1135.73 1804.5,1135.59 1805.0,1135.82 1805.5,1136.36 1806.0,1137.12 1806.5,1137.98 1807.0,1138.87 1807.5,1139.78 1808.0,1140.74 1808.5,1141.82 1809.0,1142.96 1809.5,1144.06 1810.0,1145.02 1810.5,1145.78 1811.0,1146.33 1811.5,1146.72 1812.0,1147.00 1812.5,1147.19 1813.0,1147.32 1813.5,1147.40 1814.0,1147.45 1814.5,1147.47 1815.0,1147.48 1815.5,1147.47 1816.0,1147.45 1816.5,1147.42 1817.0,1147.38 1817.5,1147.34 1818.0,1147.29 1818.5,1147.23 1819.0,1147.17 1819.5,1147.10 1820.0,1147.02 1820.5,1146.94 1821.0,1146.85 1821.5,1146.74 1822.0,1146.63 1822.5,1146.50 1823.0,1146.34 1823.5,1146.16 1824.0,1145.93 1824.5,1145.66 1825.0,1145.34 1825.5,1144.99 1826.0,1144.61 1826.5,1144.25 1827.0,1143.93 1827.5,1143.66 1828.0,1143.43 1828.5,1143.23 1829.0,1143.02 1829.5,1142.77 1830.0,1142.44 1830.5,1142.00 1831.0,1141.41 1831.5,1140.64 1832.0,1139.66 1832.5,1138.38 1833.0,1136.73 1833.5,1134.57 1834.0,1131.77 1834.5,1128.13 1835.0,1123.45 1835.5,1117.48 1836.0,1109.98 1836.5,1100.73 1837.0,1089.53 1837.5,1076.25 1838.0,1060.88 1838.5,1043.51 1839.0,1024.40 1839.5,1003.99 1840.0,982.91 1840.5,961.98 1841.0,942.25 1841.5,924.91 1842.0,911.24 1842.5,902.45 1843.0,899.40 1843.5,902.43 1844.0,911.18 1844.5,924.76 1845.0,941.94 1845.5,961.44 1846.0,982.12 1846.5,1003.03 1847.0,1023.43 1847.5,1042.68 1848.0,1060.29 1848.5,1075.91 1849.0,1089.37 1849.5,1100.68 1850.0,1109.98 1850.5,1117.50 1851.0,1123.48 1851.5,1128.18 1852.0,1131.82 1852.5,1134.62 1853.0,1136.78 1853.5,1138.45 1854.0,1139.74 1854.5,1140.77 1855.0,1141.59 1855.5,1142.26 1856.0,1142.83 1856.5,1143.31 1857.0,1143.73 1857.5,1144.09 1858.0,1144.41 1858.5,1144.67 1859.0,1144.87 1859.5,1145.03 1860.0,1145.17 1860.5,1145.33 1861.0,1145.51 1861.5,1145.74 1862.0,1145.99 1862.5,1146.24 1863.0,1146.46 1863.5,1146.64 1864.0,1146.79 1864.5,1146.92 1865.0,1147.04 1865.5,1147.14 1866.0,1147.23 1866.5,1147.32 1867.0,1147.39 1867.5,1147.46 1868.0,1147.50 1868.5,1147.53 1869.0,1147.54 1869.5,1147.53 1870.0,1147.49 1870.5,1147.44 1871.0,1147.39 1871.5,1147.34 1872.0,1147.31 1872.5,1147.31 1873.0,1147.35 1873.5,1147.43 1874.0,1147.54 1874.5,1147.67 1875.0,1147.82 1875.5,1147.96 1876.0,1148.09 1876.5,1148.21 1877.0,1148.30 1877.5,1148.37 1878.0,1148.43 1878.5,1148.46 1879.0,1148.49 1879.5,1148.50 1880.0,1148.50 1880.5,1148.49 1881.0,1148.47 1881.5,1148.45 1882.0,1148.43 1882.5,1148.42 1883.0,1148.42 1883.5,1148.44 1884.0,1148.47 1884.5,1148.52 1885.0,1148.57 1885.5,1148.63 1886.0,1148.68 1886.5,1148.73 1887.0,1148.78 1887.5,1148.81 1888.0,1148.84 1888.5,1148.86 1889.0,1148.88 1889.5,1148.90 1890.0,1148.91 1890.5,1148.92 1891.0,1148.94 1891.5,1148.95 1892.0,1148.96 1892.5,1148.97 1893.0,1148.98 1893.5,1148.99 1894.0,1149.00 1894.5,1149.00 1895.0,1149.01 1895.5,1149.01 1896.0,1149.00 1896.5,1148.97 1897.0,1148.90 1897.5,1148.80 1898.0,1148.66 1898.5,1148.52 1899.0,1148.41 1899.5,1148.38 1900.0,1148.43 1900.5,1148.54 1901.0,1148.66 1901.5,1148.69 1902.0,1148.59 1902.5,1148.35 1903.0,1148.09 1903.5,1147.97 1904.0,1148.06 1904.5,1148.32 1905.0,1148.58 1905.5,1148.69 1906.0,1148.64 1906.5,1148.49 1907.0,1148.35 1907.5,1148.34 1908.0,1148.47 1908.5,1148.68 1909.0,1148.89 1909.5,1149.04 1910.0,1149.13 1910.5,1149.18 1911.0,1149.19 1911.5,1149.20 1912.0,1149.21 1912.5,1149.21 1913.0,1149.22 1913.5,1149.22 1914.0,1149.22 1914.5,1149.23 1915.0,1149.23 1915.5,1149.23 1916.0,1149.23 1916.5,1149.21 1917.0,1149.18 1917.5,1149.10 1918.0,1148.96 1918.5,1148.78 1919.0,1148.59 1919.5,1148.47 1920.0,1148.47 1920.5,1148.58 1921.0,1148.76 1921.5,1148.92 1922.0,1149.00 1922.5,1148.96 1923.0,1148.80 1923.5,1148.58 1924.0,1148.39 1924.5,1148.33 1925.0,1148.43 1925.5,1148.65 1926.0,1148.89 1926.5,1149.08 1927.0,1149.20 1927.5,1149.26 1928.0,1149.29 1928.5,1149.30 1929.0,1149.30 1929.5,1149.30 1930.0,1149.31 1930.5,1149.31 1931.0,1149.31 1931.5,1149.31 1932.0,1149.31 1932.5,1149.31 1933.0,1149.32 1933.5,1149.32 1934.0,1149.32 1934.5,1149.32 1935.0,1149.31 1935.5,1149.31 1936.0,1149.29 1936.5,1149.27 1937.0,1149.24 1937.5,1149.19 1938.0,1149.13 1938.5,1149.07 1939.0,1149.01 1939.5,1148.97 1940.0,1148.95 1940.5,1148.95 1941.0,1148.99 1941.5,1149.04 1942.0,1149.11 1942.5,1149.17 1943.0,1149.23 1943.5,1149.27 1944.0,1149.30 1944.5,1149.31 1945.0,1149.30 1945.5,1149.27 1946.0,1149.21 1946.5,1149.13 1947.0,1149.02 1947.5,1148.90 1948.0,1148.79 1948.5,1148.70 1949.0,1148.66 1949.5,1148.68 1950.0,1148.76 1950.5,1148.87 1951.0,1148.99 1951.5,1149.11 1952.0,1149.20 1952.5,1149.27 1953.0,1149.32 1953.5,1149.34 1954.0,1149.36 1954.5,1149.37 1955.0,1149.37 1955.5,1149.37 1956.0,1149.37 1956.5,1149.35 1957.0,1149.31 1957.5,1149.23 1958.0,1149.08 1958.5,1148.90 1959.0,1148.74 1959.5,1148.68 1960.0,1148.74 1960.5,1148.90 1961.0,1149.09 1961.5,1149.24 1962.0,1149.32 1962.5,1149.36 1963.0,1149.38 1963.5,1149.39 1964.0,1149.39 1964.5,1149.39 1965.0,1149.39 1965.5,1149.39 1966.0,1149.39 1966.5,1149.39 1967.0,1149.39 1967.5,1149.39 1968.0,1149.39 1968.5,1149.39 1969.0,1149.39 1969.5,1149.39 1970.0,1149.39 1970.5,1149.39 1971.0,1149.38 1971.5,1149.34 1972.0,1149.25 1972.5,1149.08 1973.0,1148.82 1973.5,1148.53 1974.0,1148.33 1974.5,1148.32 1975.0,1148.50 1975.5,1148.79 1976.0,1149.05 1976.5,1149.23 1977.0,1149.32 1977.5,1149.34 1978.0,1149.32 1978.5,1149.28 1979.0,1149.20 1979.5,1149.11 1980.0,1149.02 1980.5,1148.93 1981.0,1148.86 1981.5,1148.84 1982.0,1148.86 1982.5,1148.93 1983.0,1149.02 1983.5,1149.11 1984.0,1149.21 1984.5,1149.28 1985.0,1149.33 1985.5,1149.37 1986.0,1149.38 1986.5,1149.36 1987.0,1149.31 1987.5,1149.21 1988.0,1149.08 1988.5,1148.94 1989.0,1148.86 1989.5,1148.87 1990.0,1148.97 1990.5,1149.11 1991.0,1149.24 1991.5,1149.33 1992.0,1149.38 1992.5,1149.40 1993.0,1149.41 1993.5,1149.41 1994.0,1149.40 1994.5,1149.38 1995.0,1149.35 1995.5,1149.30 1996.0,1149.23 1996.5,1149.14 1997.0,1149.02 1997.5,1148.88 1998.0,1148.72 1998.5,1148.57 1999.0,1148.44 1999.5,1148.34 2000.0,1148.29 2000.5,1148.29 2001.0,1148.35 2001.5,1148.46 2002.0,1148.60 2002.5,1148.75 2003.0,1148.90 2003.5,1149.03 2004.0,1149.13 2004.5,1149.20 2005.0,1149.23 2005.5,1149.23 2006.0,1149.20 2006.5,1149.15 2007.0,1149.11 2007.5,1149.07 2008.0,1149.06 2008.5,1149.08 2009.0,1149.13 2009.5,1149.19 2010.0,1149.25 2010.5,1149.31 2011.0,1149.36 2011.5,1149.39 2012.0,1149.41 2012.5,1149.42 2013.0,1149.43 2013.5,1149.43 2014.0,1149.43 2014.5,1149.43 2015.0,1149.43 2015.5,1149.43 2016.0,1149.43 2016.5,1149.41 2017.0,1149.38 2017.5,1149.30 2018.0,1149.16 2018.5,1148.94 2019.0,1148.67 2019.5,1148.38 2020.0,1148.15 2020.5,1148.06 2021.0,1148.13 2021.5,1148.35 2022.0,1148.63 2022.5,1148.89 2023.0,1149.08 2023.5,1149.20 2024.0,1149.25 2024.5,1149.25 2025.0,1149.23 2025.5,1149.20 2026.0,1149.18 2026.5,1149.16 2027.0,1149.16 2027.5,1149.17 2028.0,1149.20 2028.5,1149.23 2029.0,1149.26 2029.5,1149.30 2030.0,1149.34 2030.5,1149.37 2031.0,1149.39 2031.5,1149.41 2032.0,1149.42 2032.5,1149.41 2033.0,1149.38 2033.5,1149.28 2034.0,1149.08 2034.5,1148.81 2035.0,1148.53 2035.5,1148.38 2036.0,1148.43 2036.5,1148.64 2037.0,1148.90 2037.5,1149.10 2038.0,1149.18" fill="none" stroke="#0000ff" stroke-width="5.0" stroke-linejoin="round" stroke-linecap="butt"/>
<rect x="822" y="471" width="20" height="681" fill="#d8d8d8" style="mix-blend-mode:multiply"/>
<rect x="1090" y="471" width="20" height="681" fill="#d8d8d8" style="mix-blend-mode:multiply"/>
<rect x="1335" y="471" width="20" height="681" fill="#d8d8d8" style="mix-blend-mode:multiply"/>
<rect x="3" y="579.6" width="2039" height="2.1" fill="#000"/>
<rect x="3" y="1151.8" width="2039" height="3.2" fill="#000"/>
<rect x="62.92" y="1154" width="3" height="11" fill="#000"/>
<rect x="131.31" y="1154" width="3" height="11" fill="#000"/>
<rect x="199.45" y="1154" width="3.5" height="18" fill="#000"/>
<rect x="268.09" y="1154" width="3" height="11" fill="#000"/>
<rect x="336.48" y="1154" width="3" height="11" fill="#000"/>
<rect x="404.87" y="1154" width="3" height="11" fill="#000"/>
<rect x="473.26" y="1154" width="3" height="11" fill="#000"/>
<rect x="541.40" y="1154" width="3.5" height="18" fill="#000"/>
<rect x="610.04" y="1154" width="3" height="11" fill="#000"/>
<rect x="678.43" y="1154" width="3" height="11" fill="#000"/>
<rect x="746.82" y="1154" width="3" height="11" fill="#000"/>
<rect x="815.21" y="1154" width="3" height="11" fill="#000"/>
<rect x="883.35" y="1154" width="3.5" height="18" fill="#000"/>
<rect x="951.99" y="1154" width="3" height="11" fill="#000"/>
<rect x="1020.38" y="1154" width="3" height="11" fill="#000"/>
<rect x="1088.77" y="1154" width="3" height="11" fill="#000"/>
<rect x="1157.16" y="1154" width="3" height="11" fill="#000"/>
<rect x="1225.30" y="1154" width="3.5" height="18" fill="#000"/>
<rect x="1293.94" y="1154" width="3" height="11" fill="#000"/>
<rect x="1362.33" y="1154" width="3" height="11" fill="#000"/>
<rect x="1430.72" y="1154" width="3" height="11" fill="#000"/>
<rect x="1499.11" y="1154" width="3" height="11" fill="#000"/>
<rect x="1567.25" y="1154" width="3.5" height="18" fill="#000"/>
<rect x="1635.89" y="1154" width="3" height="11" fill="#000"/>
<rect x="1704.28" y="1154" width="3" height="11" fill="#000"/>
<rect x="1772.67" y="1154" width="3" height="11" fill="#000"/>
<rect x="1841.06" y="1154" width="3" height="11" fill="#000"/>
<rect x="1909.20" y="1154" width="3.5" height="18" fill="#000"/>
<rect x="1977.84" y="1154" width="3" height="11" fill="#000"/>
<text transform="translate(164.60 1199.30) scale(0.9365 1)" x="0" y="0" font-size="31.5" letter-spacing="1.815" word-spacing="0.000" fill="#000">409.20</text>
<text transform="translate(498.10 1199.30) scale(0.9365 1)" x="0" y="0" font-size="31.5" letter-spacing="1.815" word-spacing="0.000" fill="#000">409.25</text>
<text transform="translate(841.20 1199.30) scale(0.9365 1)" x="0" y="0" font-size="31.5" letter-spacing="1.815" word-spacing="0.000" fill="#000">409.30</text>
<text transform="translate(1184.40 1199.30) scale(0.9365 1)" x="0" y="0" font-size="31.5" letter-spacing="1.815" word-spacing="0.000" fill="#000">409.35</text>
<text transform="translate(1519.80 1199.30) scale(0.9365 1)" x="0" y="0" font-size="31.5" letter-spacing="1.815" word-spacing="0.000" fill="#000">409.40</text>
<text transform="translate(1859.30 1199.30) scale(0.9365 1)" x="0" y="0" font-size="31.5" letter-spacing="1.815" word-spacing="0.000" fill="#000">409.45</text>
<text transform="translate(29.50 102.30) scale(0.9609 1)" x="0" y="0" font-size="61.4" letter-spacing="3.434" word-spacing="-5.203" fill="#000">SR extract</text>
<text transform="translate(29.00 700.40) scale(0.9609 1)" x="0" y="0" font-size="61.4" letter-spacing="3.434" word-spacing="-5.203" fill="#000">PyB extract</text>
<text x="211.4" y="556.6" fill="#000" font-size="30.5" letter-spacing="0.95"><tspan dy="1.8">[</tspan><tspan dy="-1.8">C</tspan><tspan font-size="20.25">29</tspan><tspan>H</tspan><tspan font-size="20.25">28</tspan><tspan>O</tspan><tspan font-size="20.25">2</tspan><tspan>+H</tspan><tspan dy="1.8">]</tspan><tspan font-size="16" dy="-15.3">+</tspan></text>
<text x="447.5" y="510.8" fill="#000" font-size="30.5" letter-spacing="0.95"><tspan dy="1.8">[</tspan><tspan dy="-1.8">C</tspan><tspan font-size="20.25">30</tspan><tspan>H</tspan><tspan font-size="20.25">32</tspan><tspan>O</tspan><tspan font-size="20.25">2</tspan><tspan>+H</tspan><tspan dy="1.8">]</tspan><tspan font-size="16" dy="-15.3">+</tspan></text>
<text x="600.7" y="470.8" fill="#000" font-size="30.5" letter-spacing="0.95"><tspan dy="1.8">[</tspan><tspan dy="-1.8">C</tspan><tspan font-size="20.25">27</tspan><tspan>H</tspan><tspan font-size="20.25">36</tspan><tspan>O</tspan><tspan font-size="20.25">3</tspan><tspan>+H</tspan><tspan dy="1.8">]</tspan><tspan font-size="16" dy="-15.3">+</tspan></text>
<text x="722.1" y="426.0" fill="#000" font-size="30.5" letter-spacing="0.95"><tspan dy="1.8">[</tspan><tspan dy="-1.8">C</tspan><tspan font-size="20.25">31</tspan><tspan>H</tspan><tspan font-size="20.25">36</tspan><tspan>+H</tspan><tspan dy="1.8">]</tspan><tspan font-size="16" dy="-15.3">+</tspan></text>
<text x="890.1" y="437.9" fill="#000" font-size="30.5" letter-spacing="0.95"><tspan dy="1.8">[</tspan><tspan dy="-1.8">C</tspan><tspan font-size="20.25">28</tspan><tspan>H</tspan><tspan font-size="20.25">40</tspan><tspan>O</tspan><tspan font-size="20.25">2</tspan><tspan>+H</tspan><tspan dy="1.8">]</tspan><tspan font-size="16" dy="-15.3">+</tspan></text>
<text x="1100.7" y="48.7" fill="#000" font-size="30.5" letter-spacing="0.95"><tspan dy="1.8">[</tspan><tspan dy="-1.8">C</tspan><tspan font-size="20.25">29</tspan><tspan>H</tspan><tspan font-size="20.25">44</tspan><tspan>O</tspan><tspan font-size="20.25">1</tspan><tspan>+H</tspan><tspan dy="1.8">]</tspan><tspan font-size="16" dy="-15.3">+</tspan></text>
<text x="1368.9" y="261.0" fill="#000" font-size="30.5" letter-spacing="0.95"><tspan dy="1.8">[</tspan><tspan dy="-1.8">C</tspan><tspan font-size="20.25">30</tspan><tspan>H</tspan><tspan font-size="20.25">48</tspan><tspan>+H</tspan><tspan dy="1.8">]</tspan><tspan font-size="16" dy="-15.3">+</tspan></text>
<text x="1501.1" y="553.0" fill="#000" font-size="30.5" letter-spacing="0.95"><tspan dy="1.8">[</tspan><tspan dy="-1.8">C</tspan><tspan font-size="20.25">27</tspan><tspan>H</tspan><tspan font-size="20.25">52</tspan><tspan>O</tspan><tspan font-size="20.25">2</tspan><tspan>+H</tspan><tspan dy="1.8">]</tspan><tspan font-size="16" dy="-15.3">+</tspan></text>
<text x="1741.5" y="518.3" fill="#000" font-size="30.5" letter-spacing="0.95"><tspan dy="1.8">[</tspan><tspan dy="-1.8">C</tspan><tspan font-size="20.25">28</tspan><tspan>H</tspan><tspan font-size="20.25">56</tspan><tspan>O</tspan><tspan font-size="20.25">1</tspan><tspan>+H</tspan><tspan dy="1.8">]</tspan><tspan font-size="16" dy="-15.3">+</tspan></text>
<text x="211.6" y="1106.9" fill="#000" font-size="30.5" letter-spacing="0.95"><tspan dy="1.8">[</tspan><tspan dy="-1.8">C</tspan><tspan font-size="20.25">29</tspan><tspan>H</tspan><tspan font-size="20.25">28</tspan><tspan>O</tspan><tspan font-size="20.25">2</tspan><tspan>+H</tspan><tspan dy="1.8">]</tspan><tspan font-size="16" dy="-15.3">+</tspan></text>
<text x="449.5" y="1027.8" fill="#000" font-size="30.5" letter-spacing="0.95"><tspan dy="1.8">[</tspan><tspan dy="-1.8">C</tspan><tspan font-size="20.25">30</tspan><tspan>H</tspan><tspan font-size="20.25">32</tspan><tspan>O</tspan><tspan font-size="20.25">2</tspan><tspan>+H</tspan><tspan dy="1.8">]</tspan><tspan font-size="16" dy="-15.3">+</tspan></text>
<text x="595.0" y="977.8" fill="#000" font-size="30.5" letter-spacing="0.95"><tspan dy="1.8">[</tspan><tspan dy="-1.8">C</tspan><tspan font-size="20.25">27</tspan><tspan>H</tspan><tspan font-size="20.25">36</tspan><tspan>O</tspan><tspan font-size="20.25">3</tspan><tspan>+H</tspan><tspan dy="1.8">]</tspan><tspan font-size="16" dy="-15.3">+</tspan></text>
<text x="724.7" y="743.5" fill="#000" font-size="30.5" letter-spacing="0.95"><tspan dy="1.8">[</tspan><tspan dy="-1.8">C</tspan><tspan font-size="20.25">31</tspan><tspan>H</tspan><tspan font-size="20.25">36</tspan><tspan>+H</tspan><tspan dy="1.8">]</tspan><tspan font-size="16" dy="-15.3">+</tspan></text>
<text x="890.5" y="968.9" fill="#000" font-size="30.5" letter-spacing="0.95"><tspan dy="1.8">[</tspan><tspan dy="-1.8">C</tspan><tspan font-size="20.25">28</tspan><tspan>H</tspan><tspan font-size="20.25">40</tspan><tspan>O</tspan><tspan font-size="20.25">2</tspan><tspan>+H</tspan><tspan dy="1.8">]</tspan><tspan font-size="16" dy="-15.3">+</tspan></text>
<text x="1101.2" y="619.8" fill="#000" font-size="30.5" letter-spacing="0.95"><tspan dy="1.8">[</tspan><tspan dy="-1.8">C</tspan><tspan font-size="20.25">29</tspan><tspan>H</tspan><tspan font-size="20.25">44</tspan><tspan>O</tspan><tspan font-size="20.25">1</tspan><tspan>+H</tspan><tspan dy="1.8">]</tspan><tspan font-size="16" dy="-15.3">+</tspan></text>
<text x="1368.7" y="611.5" fill="#000" font-size="30.5" letter-spacing="0.95"><tspan dy="1.8">[</tspan><tspan dy="-1.8">C</tspan><tspan font-size="20.25">30</tspan><tspan>H</tspan><tspan font-size="20.25">48</tspan><tspan>+H</tspan><tspan dy="1.8">]</tspan><tspan font-size="16" dy="-15.3">+</tspan></text>
<text x="1500.9" y="940.2" fill="#000" font-size="30.5" letter-spacing="0.95"><tspan dy="1.8">[</tspan><tspan dy="-1.8">C</tspan><tspan font-size="20.25">27</tspan><tspan>H</tspan><tspan font-size="20.25">52</tspan><tspan>O</tspan><tspan font-size="20.25">2</tspan><tspan>+H</tspan><tspan dy="1.8">]</tspan><tspan font-size="16" dy="-15.3">+</tspan></text>
<text x="1741.7" y="888.4" fill="#000" font-size="30.5" letter-spacing="0.95"><tspan dy="1.8">[</tspan><tspan dy="-1.8">C</tspan><tspan font-size="20.25">28</tspan><tspan>H</tspan><tspan font-size="20.25">56</tspan><tspan>O</tspan><tspan font-size="20.25">1</tspan><tspan>+H</tspan><tspan dy="1.8">]</tspan><tspan font-size="16" dy="-15.3">+</tspan></text>
<text x="848.1" y="921.9" fill="#0000e0" font-size="30.5" letter-spacing="0.95"><tspan dy="1.8">[</tspan><tspan dy="-1.8">C</tspan><tspan font-size="20.25">28</tspan><tspan>H</tspan><tspan font-size="20.25">40</tspan><tspan>S</tspan><tspan font-size="20.25">1</tspan><tspan>+H</tspan><tspan dy="1.8">]</tspan><tspan font-size="16" dy="-15.3">+</tspan></text>
<text x="987.0" y="1064.2" fill="#0000e0" font-size="30.5" letter-spacing="0.95"><tspan dy="1.8">[</tspan><tspan dy="-1.8">C</tspan><tspan font-size="20.25">25</tspan><tspan>H</tspan><tspan font-size="20.25">44</tspan><tspan>O</tspan><tspan font-size="20.25">4</tspan><tspan>+H</tspan><tspan dy="1.8">]</tspan><tspan font-size="16" dy="-15.3">+</tspan></text>
<text x="1233.5" y="1019.3" fill="#0000e0" font-size="30.5" letter-spacing="0.95"><tspan dy="1.8">[</tspan><tspan dy="-1.8">C</tspan><tspan font-size="20.25">26</tspan><tspan>H</tspan><tspan font-size="20.25">48</tspan><tspan>O</tspan><tspan font-size="20.25">3</tspan><tspan>+H</tspan><tspan dy="1.8">]</tspan><tspan font-size="16" dy="-15.3">+</tspan></text>
<path d="M706.3,552.4 L707.2,480.5 M713.4,491.6 L707.2,481.1 L700.8,491.4" stroke="#ff0000" stroke-width="2.3" fill="none" stroke-linecap="butt" stroke-linejoin="miter"/>
<path d="M703.9,1085.7 L705.7,987.0 M711.8,998.1 L705.7,987.6 L699.2,997.9" stroke="#0000e8" stroke-width="2.5" fill="none" stroke-linecap="butt" stroke-linejoin="miter"/>
<path d="M831.4,1095.0 L860.8,931.0 M865.1,942.9 L860.8,931.6 L852.7,940.7" stroke="#0000e8" stroke-width="2.5" fill="none" stroke-linecap="butt" stroke-linejoin="miter"/>
<path d="M1098.4,1112.0 L1098.4,1073.5 M1103.4,1081.5 L1098.4,1074.1 L1093.4,1081.5" stroke="#0000e8" stroke-width="2.0" fill="none" stroke-linecap="butt" stroke-linejoin="miter"/>
<path d="M1345.4,1067.4 L1345.4,1027.3 M1351.7,1038.3 L1345.4,1027.9 L1339.1,1038.3" stroke="#0000e8" stroke-width="2.6" fill="none" stroke-linecap="butt" stroke-linejoin="miter"/>
<rect x="0" y="0" width="2048" height="3" fill="#352c2b"/>
<rect x="0" y="0" width="3" height="1215" fill="#352c2b"/>
<rect x="2044" y="0" width="4" height="1215" fill="#352c2b"/>
<rect x="0" y="1211" width="2048" height="4" fill="#352c2b"/>
</svg></body></html>
